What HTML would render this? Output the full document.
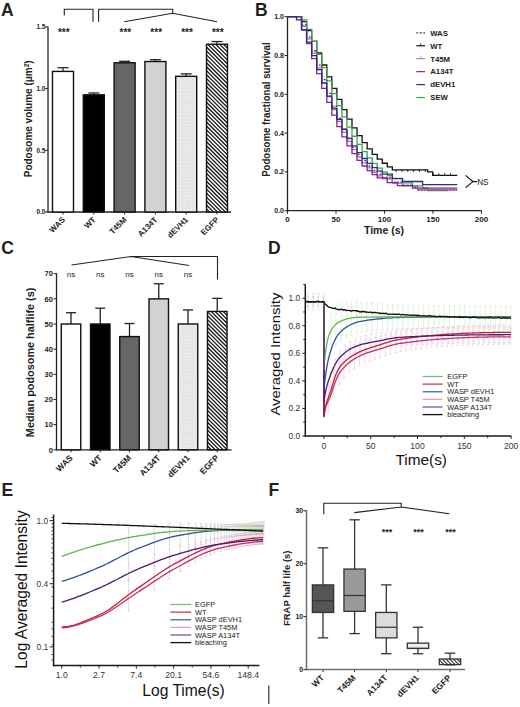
<!DOCTYPE html>
<html><head><meta charset="utf-8"><style>
html,body{margin:0;padding:0;background:#fff;}
body{width:520px;height:707px;overflow:hidden;}
svg{display:block;font-family:"Liberation Sans", sans-serif;}
</style></head><body>
<svg width="520" height="707" viewBox="0 0 520 707">
<defs>
<pattern id="dots" width="2" height="2" patternUnits="userSpaceOnUse" patternTransform="rotate(45)"><rect width="2" height="2" fill="#efefef"/><rect width="1" height="1" fill="#cfcfcf"/></pattern>
<pattern id="hatch" width="2.4" height="4" patternUnits="userSpaceOnUse" patternTransform="rotate(-45)"><rect width="2.4" height="4" fill="#fff"/><rect width="1.1" height="4" fill="#1a1a1a"/></pattern>
</defs>
<text x="1.00" y="15.80" font-size="17.5" font-weight="bold" text-anchor="start" fill="#222" >A</text>
<text x="255.00" y="15.80" font-size="17.5" font-weight="bold" text-anchor="start" fill="#222" >B</text>
<text x="1.30" y="254.10" font-size="17.5" font-weight="bold" text-anchor="start" fill="#222" >C</text>
<text x="268.00" y="254.10" font-size="17.5" font-weight="bold" text-anchor="start" fill="#222" >D</text>
<text x="1.40" y="495.80" font-size="17.5" font-weight="bold" text-anchor="start" fill="#222" >E</text>
<text x="268.50" y="495.80" font-size="17.5" font-weight="bold" text-anchor="start" fill="#222" >F</text>
<line x1="48.00" y1="26.50" x2="48.00" y2="212.60" stroke="#222" stroke-width="1.3" />
<line x1="47.40" y1="212.00" x2="231.00" y2="212.00" stroke="#222" stroke-width="1.3" />
<line x1="45.00" y1="212.00" x2="48.00" y2="212.00" stroke="#222" stroke-width="1" />
<text x="45.40" y="214.30" font-size="6.4" font-weight="bold" text-anchor="end" fill="#222" >0.0</text>
<line x1="45.00" y1="150.33" x2="48.00" y2="150.33" stroke="#222" stroke-width="1" />
<text x="45.40" y="152.63" font-size="6.4" font-weight="bold" text-anchor="end" fill="#222" >0.5</text>
<line x1="45.00" y1="88.67" x2="48.00" y2="88.67" stroke="#222" stroke-width="1" />
<text x="45.40" y="90.97" font-size="6.4" font-weight="bold" text-anchor="end" fill="#222" >1.0</text>
<line x1="45.00" y1="27.00" x2="48.00" y2="27.00" stroke="#222" stroke-width="1" />
<text x="45.40" y="29.30" font-size="6.4" font-weight="bold" text-anchor="end" fill="#222" >1.5</text>
<text x="32.30" y="118.80" font-size="10" font-weight="bold" text-anchor="middle" fill="#222" transform="rotate(-90 32.30 118.80)" >Podosome volume (μm<tspan font-size="6.5" dy="-3.6">2</tspan><tspan dy="3.6">)</tspan></text>
<line x1="63.00" y1="71.40" x2="63.00" y2="67.70" stroke="#222" stroke-width="1.2" />
<line x1="57.50" y1="67.70" x2="68.50" y2="67.70" stroke="#222" stroke-width="1.3" />
<rect x="52.50" y="71.40" width="21.00" height="140.60" fill="#fff" stroke="#111" stroke-width="1.4"/>
<line x1="63.00" y1="212.00" x2="63.00" y2="214.50" stroke="#222" stroke-width="1" />
<text x="65.50" y="220.30" font-size="8" font-weight="bold" text-anchor="end" fill="#222" transform="rotate(-45 65.50 220.30)" >WAS</text>
<text x="63.80" y="35.80" font-size="10" font-weight="bold" text-anchor="middle" fill="#222" >***</text>
<line x1="93.80" y1="94.83" x2="93.80" y2="92.98" stroke="#222" stroke-width="1.2" />
<line x1="88.30" y1="92.98" x2="99.30" y2="92.98" stroke="#222" stroke-width="1.3" />
<rect x="83.30" y="94.83" width="21.00" height="117.17" fill="#000" stroke="#111" stroke-width="1.4"/>
<line x1="93.80" y1="212.00" x2="93.80" y2="214.50" stroke="#222" stroke-width="1" />
<text x="96.30" y="220.30" font-size="8" font-weight="bold" text-anchor="end" fill="#222" transform="rotate(-45 96.30 220.30)" >WT</text>
<line x1="124.60" y1="62.77" x2="124.60" y2="61.29" stroke="#222" stroke-width="1.2" />
<line x1="119.10" y1="61.29" x2="130.10" y2="61.29" stroke="#222" stroke-width="1.3" />
<rect x="114.10" y="62.77" width="21.00" height="149.23" fill="#666" stroke="#111" stroke-width="1.4"/>
<line x1="124.60" y1="212.00" x2="124.60" y2="214.50" stroke="#222" stroke-width="1" />
<text x="127.10" y="220.30" font-size="8" font-weight="bold" text-anchor="end" fill="#222" transform="rotate(-45 127.10 220.30)" >T45M</text>
<text x="125.40" y="35.80" font-size="10" font-weight="bold" text-anchor="middle" fill="#222" >***</text>
<line x1="155.40" y1="61.53" x2="155.40" y2="59.68" stroke="#222" stroke-width="1.2" />
<line x1="149.90" y1="59.68" x2="160.90" y2="59.68" stroke="#222" stroke-width="1.3" />
<rect x="144.90" y="61.53" width="21.00" height="150.47" fill="#d2d2d2" stroke="#111" stroke-width="1.4"/>
<line x1="155.40" y1="212.00" x2="155.40" y2="214.50" stroke="#222" stroke-width="1" />
<text x="157.90" y="220.30" font-size="8" font-weight="bold" text-anchor="end" fill="#222" transform="rotate(-45 157.90 220.30)" >A134T</text>
<text x="156.20" y="35.80" font-size="10" font-weight="bold" text-anchor="middle" fill="#222" >***</text>
<line x1="186.20" y1="76.33" x2="186.20" y2="73.87" stroke="#222" stroke-width="1.2" />
<line x1="180.70" y1="73.87" x2="191.70" y2="73.87" stroke="#222" stroke-width="1.3" />
<rect x="175.70" y="76.33" width="21.00" height="135.67" fill="url(#dots)" stroke="#111" stroke-width="1.4"/>
<line x1="186.20" y1="212.00" x2="186.20" y2="214.50" stroke="#222" stroke-width="1" />
<text x="188.70" y="220.30" font-size="8" font-weight="bold" text-anchor="end" fill="#222" transform="rotate(-45 188.70 220.30)" >dEVH1</text>
<text x="187.00" y="35.80" font-size="10" font-weight="bold" text-anchor="middle" fill="#222" >***</text>
<line x1="217.00" y1="44.27" x2="217.00" y2="41.55" stroke="#222" stroke-width="1.2" />
<line x1="211.50" y1="41.55" x2="222.50" y2="41.55" stroke="#222" stroke-width="1.3" />
<clipPath id="hc1"><rect x="206.50" y="44.27" width="21.00" height="167.73"/></clipPath>
<rect x="206.50" y="44.27" width="21.00" height="167.73" fill="#fff"/>
<path d="M205.50 22.27 L228.50 45.27 M205.50 26.22 L228.50 49.22 M205.50 30.17 L228.50 53.17 M205.50 34.12 L228.50 57.12 M205.50 38.07 L228.50 61.07 M205.50 42.02 L228.50 65.02 M205.50 45.97 L228.50 68.97 M205.50 49.92 L228.50 72.92 M205.50 53.87 L228.50 76.87 M205.50 57.82 L228.50 80.82 M205.50 61.77 L228.50 84.77 M205.50 65.72 L228.50 88.72 M205.50 69.67 L228.50 92.67 M205.50 73.62 L228.50 96.62 M205.50 77.57 L228.50 100.57 M205.50 81.52 L228.50 104.52 M205.50 85.47 L228.50 108.47 M205.50 89.42 L228.50 112.42 M205.50 93.37 L228.50 116.37 M205.50 97.32 L228.50 120.32 M205.50 101.27 L228.50 124.27 M205.50 105.22 L228.50 128.22 M205.50 109.17 L228.50 132.17 M205.50 113.12 L228.50 136.12 M205.50 117.07 L228.50 140.07 M205.50 121.02 L228.50 144.02 M205.50 124.97 L228.50 147.97 M205.50 128.92 L228.50 151.92 M205.50 132.87 L228.50 155.87 M205.50 136.82 L228.50 159.82 M205.50 140.77 L228.50 163.77 M205.50 144.72 L228.50 167.72 M205.50 148.67 L228.50 171.67 M205.50 152.62 L228.50 175.62 M205.50 156.57 L228.50 179.57 M205.50 160.52 L228.50 183.52 M205.50 164.47 L228.50 187.47 M205.50 168.42 L228.50 191.42 M205.50 172.37 L228.50 195.37 M205.50 176.32 L228.50 199.32 M205.50 180.27 L228.50 203.27 M205.50 184.22 L228.50 207.22 M205.50 188.17 L228.50 211.17 M205.50 192.12 L228.50 215.12 M205.50 196.07 L228.50 219.07 M205.50 200.02 L228.50 223.02 M205.50 203.97 L228.50 226.97 M205.50 207.92 L228.50 230.92 " stroke="#1a1a1a" stroke-width="1.3" clip-path="url(#hc1)"/>
<rect x="206.50" y="44.27" width="21.00" height="167.73" fill="none" stroke="#111" stroke-width="1.4"/>
<line x1="217.00" y1="212.00" x2="217.00" y2="214.50" stroke="#222" stroke-width="1" />
<text x="219.50" y="220.30" font-size="8" font-weight="bold" text-anchor="end" fill="#222" transform="rotate(-45 219.50 220.30)" >EGFP</text>
<text x="217.80" y="35.80" font-size="10" font-weight="bold" text-anchor="middle" fill="#222" >***</text>
<path d="M64.3 15.6 V9.3 H93 V21.8" stroke="#222" stroke-width="1.1" fill="none" />
<path d="M98.6 21.8 V9.3 H172.7 V13.2 M124.2 21.8 L172.7 13.2 L217 21.8" stroke="#222" stroke-width="1.1" fill="none" />
<line x1="287.50" y1="16.20" x2="287.50" y2="211.30" stroke="#222" stroke-width="1.3" />
<line x1="286.90" y1="210.70" x2="481.50" y2="210.70" stroke="#222" stroke-width="1.3" />
<line x1="284.50" y1="210.70" x2="287.50" y2="210.70" stroke="#222" stroke-width="1" />
<text x="284.00" y="213.20" font-size="7" font-weight="bold" text-anchor="end" fill="#222" >0.0</text>
<line x1="284.50" y1="171.90" x2="287.50" y2="171.90" stroke="#222" stroke-width="1" />
<text x="284.00" y="174.40" font-size="7" font-weight="bold" text-anchor="end" fill="#222" >0.2</text>
<line x1="284.50" y1="133.10" x2="287.50" y2="133.10" stroke="#222" stroke-width="1" />
<text x="284.00" y="135.60" font-size="7" font-weight="bold" text-anchor="end" fill="#222" >0.4</text>
<line x1="284.50" y1="94.30" x2="287.50" y2="94.30" stroke="#222" stroke-width="1" />
<text x="284.00" y="96.80" font-size="7" font-weight="bold" text-anchor="end" fill="#222" >0.6</text>
<line x1="284.50" y1="55.50" x2="287.50" y2="55.50" stroke="#222" stroke-width="1" />
<text x="284.00" y="58.00" font-size="7" font-weight="bold" text-anchor="end" fill="#222" >0.8</text>
<line x1="284.50" y1="16.70" x2="287.50" y2="16.70" stroke="#222" stroke-width="1" />
<text x="284.00" y="19.20" font-size="7" font-weight="bold" text-anchor="end" fill="#222" >1.0</text>
<line x1="287.50" y1="210.70" x2="287.50" y2="213.70" stroke="#222" stroke-width="1" />
<text x="287.50" y="222.20" font-size="8" font-weight="bold" text-anchor="middle" fill="#222" >0</text>
<line x1="336.00" y1="210.70" x2="336.00" y2="213.70" stroke="#222" stroke-width="1" />
<text x="336.00" y="222.20" font-size="8" font-weight="bold" text-anchor="middle" fill="#222" >50</text>
<line x1="384.50" y1="210.70" x2="384.50" y2="213.70" stroke="#222" stroke-width="1" />
<text x="384.50" y="222.20" font-size="8" font-weight="bold" text-anchor="middle" fill="#222" >100</text>
<line x1="433.00" y1="210.70" x2="433.00" y2="213.70" stroke="#222" stroke-width="1" />
<text x="433.00" y="222.20" font-size="8" font-weight="bold" text-anchor="middle" fill="#222" >150</text>
<line x1="481.50" y1="210.70" x2="481.50" y2="213.70" stroke="#222" stroke-width="1" />
<text x="481.50" y="222.20" font-size="8" font-weight="bold" text-anchor="middle" fill="#222" >200</text>
<text x="384.00" y="234.30" font-size="10.5" font-weight="bold" text-anchor="middle" fill="#222" >Time (s)</text>
<text x="269.60" y="109.60" font-size="11" font-weight="bold" text-anchor="middle" fill="#222" transform="rotate(-90 269.60 109.60)" textLength="134.5" lengthAdjust="spacingAndGlyphs">Podosome fractional survival</text>
<path d="M287.50 16.70 H301.56 V21.53 H306.61 V30.52 H311.65 V41.31 H316.70 V52.98 H321.74 V64.98 H326.78 V76.88 H331.83 V88.42 H336.87 V99.38 H341.92 V109.65 H346.96 V119.12 H352.00 V127.78 H357.05 V135.60 H362.09 V142.60 H367.14 V148.82 H372.18 V154.29 H377.23 V159.08 H382.27 V163.24 H387.31 V166.83 H392.36 V169.92 H427.66 V171.90 H432.71 V175.39 H457.25" stroke="#111" stroke-width="1.3" fill="none"  stroke-linejoin="miter"/>
<path d="M287.50 16.70 H301.56 V19.91 H306.61 V29.36 H311.65 V41.23 H316.70 V54.25 H321.74 V67.64 H326.78 V80.91 H331.83 V93.68 H336.87 V105.72 H341.92 V116.88 H346.96 V127.07 H352.00 V136.25 H357.05 V144.43 H362.09 V151.65 H367.14 V157.97 H372.18 V163.44 H377.23 V168.14 H382.27 V172.15 H387.31 V175.55 H392.36 V178.41 H402.45 V182.80 H412.53 V185.79 H422.62 V187.79 H427.66 V190.72 H447.55" stroke="#3aa648" stroke-width="1.3" fill="none"  stroke-linejoin="miter"/>
<path d="M287.50 16.70 H301.56 V24.91 H306.61 V36.94 H311.65 V50.74 H316.70 V65.19 H321.74 V79.56 H326.78 V93.39 H331.83 V106.36 H336.87 V118.27 H341.92 V129.04 H346.96 V138.62 H352.00 V147.04 H357.05 V154.36 H362.09 V160.65 H367.14 V166.00 H372.18 V170.52 H377.23 V174.29 H382.27 V177.43 H392.36 V182.12 H402.45 V185.22 H412.53 V187.22 H417.58 V190.33 H457.25" stroke="#333" stroke-width="1.3" fill="none" stroke-dasharray="1.6 1.6" stroke-linejoin="miter"/>
<path d="M287.50 16.70 H301.56 V26.23 H306.61 V38.86 H311.65 V53.13 H316.70 V67.93 H321.74 V82.54 H326.78 V96.51 H331.83 V109.51 H336.87 V121.38 H341.92 V132.04 H346.96 V141.46 H352.00 V149.68 H357.05 V156.78 H362.09 V162.84 H367.14 V167.95 H372.18 V172.24 H377.23 V175.80 H382.27 V178.73 H392.36 V183.06 H402.45 V185.88 H417.58 V189.75 H457.25" stroke="#b464a8" stroke-width="1.3" fill="none"  stroke-linejoin="miter"/>
<path d="M287.50 16.70 H301.56 V30.03 H306.61 V43.67 H311.65 V58.55 H316.70 V73.69 H321.74 V88.41 H326.78 V102.30 H331.83 V115.10 H336.87 V126.67 H341.92 V136.94 H346.96 V145.94 H352.00 V153.72 H357.05 V160.37 H362.09 V165.99 H367.14 V170.69 H372.18 V174.59 H377.23 V177.80 H387.31 V182.54 H397.40 V185.60 H412.53 V188.18 H457.25" stroke="#7b2a8a" stroke-width="1.3" fill="none"  stroke-linejoin="miter"/>
<path d="M287.50 16.70 H296.52 V19.81 H301.56 V29.68 H306.61 V42.10 H311.65 V55.66 H316.70 V69.53 H321.74 V83.13 H326.78 V96.10 H331.83 V108.19 H336.87 V119.26 H341.92 V129.24 H346.96 V138.11 H352.00 V145.90 H357.05 V152.67 H362.09 V158.50 H367.14 V163.47 H372.18 V167.67 H377.23 V171.20 H382.27 V174.13 H392.36 V178.55 H402.45 V181.48 H422.62 V184.60 H457.25" stroke="#2c2c8c" stroke-width="1.3" fill="none"  stroke-linejoin="miter"/>
<line x1="396.14" y1="171.90" x2="396.14" y2="169.70" stroke="#111" stroke-width="0.9" />
<line x1="401.96" y1="171.90" x2="401.96" y2="169.70" stroke="#111" stroke-width="0.9" />
<line x1="407.78" y1="171.90" x2="407.78" y2="169.70" stroke="#111" stroke-width="0.9" />
<line x1="413.60" y1="171.90" x2="413.60" y2="169.70" stroke="#111" stroke-width="0.9" />
<line x1="419.42" y1="171.90" x2="419.42" y2="169.70" stroke="#111" stroke-width="0.9" />
<line x1="425.24" y1="171.90" x2="425.24" y2="169.70" stroke="#111" stroke-width="0.9" />
<line x1="433.00" y1="175.39" x2="433.00" y2="173.19" stroke="#111" stroke-width="0.9" />
<line x1="438.82" y1="175.39" x2="438.82" y2="173.19" stroke="#111" stroke-width="0.9" />
<line x1="444.64" y1="175.39" x2="444.64" y2="173.19" stroke="#111" stroke-width="0.9" />
<line x1="450.46" y1="175.39" x2="450.46" y2="173.19" stroke="#111" stroke-width="0.9" />
<line x1="416.30" y1="32.80" x2="425.00" y2="32.80" stroke="#444" stroke-width="1.2" stroke-dasharray="2 1.5"/>
<text x="430.20" y="35.60" font-size="7.8" font-weight="bold" text-anchor="start" fill="#222" >WAS</text>
<line x1="416.30" y1="45.75" x2="425.00" y2="45.75" stroke="#111" stroke-width="1.2" />
<line x1="420.70" y1="45.75" x2="420.70" y2="43.55" stroke="#111" stroke-width="0.9" />
<text x="430.20" y="48.55" font-size="7.8" font-weight="bold" text-anchor="start" fill="#222" >WT</text>
<line x1="416.30" y1="58.70" x2="425.00" y2="58.70" stroke="#c07ab4" stroke-width="1.2" />
<line x1="420.70" y1="58.70" x2="420.70" y2="56.50" stroke="#c07ab4" stroke-width="0.9" />
<text x="430.20" y="61.50" font-size="7.8" font-weight="bold" text-anchor="start" fill="#222" >T45M</text>
<line x1="416.30" y1="71.65" x2="425.00" y2="71.65" stroke="#7b2a8a" stroke-width="1.2" />
<text x="430.20" y="74.45" font-size="7.8" font-weight="bold" text-anchor="start" fill="#222" >A134T</text>
<line x1="416.30" y1="84.60" x2="425.00" y2="84.60" stroke="#2c2c8c" stroke-width="1.2" />
<text x="430.20" y="87.40" font-size="7.8" font-weight="bold" text-anchor="start" fill="#222" >dEVH1</text>
<line x1="416.30" y1="97.55" x2="425.00" y2="97.55" stroke="#3aa648" stroke-width="1.2" />
<text x="430.20" y="100.35" font-size="7.8" font-weight="bold" text-anchor="start" fill="#222" >SEW</text>
<path d="M465.6 175.4 L472.9 181.6 L465.6 187.6 M472.9 181.6 H477" stroke="#111" stroke-width="1.2" fill="none" />
<text x="477.20" y="185.40" font-size="8.2" font-weight="normal" text-anchor="start" fill="#111" >NS</text>
<line x1="56.50" y1="273.20" x2="56.50" y2="450.40" stroke="#222" stroke-width="1.3" />
<line x1="55.90" y1="449.80" x2="231.70" y2="449.80" stroke="#222" stroke-width="1.3" />
<line x1="53.50" y1="449.80" x2="56.50" y2="449.80" stroke="#222" stroke-width="1" />
<text x="52.90" y="452.50" font-size="7.5" font-weight="bold" text-anchor="end" fill="#222" >0</text>
<line x1="53.50" y1="424.64" x2="56.50" y2="424.64" stroke="#222" stroke-width="1" />
<text x="52.90" y="427.34" font-size="7.5" font-weight="bold" text-anchor="end" fill="#222" >10</text>
<line x1="53.50" y1="399.49" x2="56.50" y2="399.49" stroke="#222" stroke-width="1" />
<text x="52.90" y="402.19" font-size="7.5" font-weight="bold" text-anchor="end" fill="#222" >20</text>
<line x1="53.50" y1="374.33" x2="56.50" y2="374.33" stroke="#222" stroke-width="1" />
<text x="52.90" y="377.03" font-size="7.5" font-weight="bold" text-anchor="end" fill="#222" >30</text>
<line x1="53.50" y1="349.17" x2="56.50" y2="349.17" stroke="#222" stroke-width="1" />
<text x="52.90" y="351.87" font-size="7.5" font-weight="bold" text-anchor="end" fill="#222" >40</text>
<line x1="53.50" y1="324.01" x2="56.50" y2="324.01" stroke="#222" stroke-width="1" />
<text x="52.90" y="326.71" font-size="7.5" font-weight="bold" text-anchor="end" fill="#222" >50</text>
<line x1="53.50" y1="298.86" x2="56.50" y2="298.86" stroke="#222" stroke-width="1" />
<text x="52.90" y="301.56" font-size="7.5" font-weight="bold" text-anchor="end" fill="#222" >60</text>
<line x1="53.50" y1="273.70" x2="56.50" y2="273.70" stroke="#222" stroke-width="1" />
<text x="52.90" y="276.40" font-size="7.5" font-weight="bold" text-anchor="end" fill="#222" >70</text>
<text x="34.20" y="362.40" font-size="11.8" font-weight="bold" text-anchor="middle" fill="#222" transform="rotate(-90 34.20 362.40)" textLength="149.5" lengthAdjust="spacingAndGlyphs">Median podosome halflife (s)</text>
<line x1="71.00" y1="324.01" x2="71.00" y2="312.69" stroke="#222" stroke-width="1.3" />
<line x1="66.00" y1="312.69" x2="76.00" y2="312.69" stroke="#222" stroke-width="1.3" />
<rect x="61.25" y="324.01" width="19.50" height="125.79" fill="#fff" stroke="#111" stroke-width="1.4"/>
<line x1="71.00" y1="449.80" x2="71.00" y2="452.30" stroke="#222" stroke-width="1" />
<text x="73.30" y="458.50" font-size="8.5" font-weight="bold" text-anchor="end" fill="#222" transform="rotate(-45 73.30 458.50)" >WAS</text>
<text x="71.00" y="277.00" font-size="8" font-weight="normal" text-anchor="middle" fill="#222" >ns</text>
<line x1="100.25" y1="324.01" x2="100.25" y2="308.17" stroke="#222" stroke-width="1.3" />
<line x1="95.25" y1="308.17" x2="105.25" y2="308.17" stroke="#222" stroke-width="1.3" />
<rect x="90.50" y="324.01" width="19.50" height="125.79" fill="#000" stroke="#111" stroke-width="1.4"/>
<line x1="100.25" y1="449.80" x2="100.25" y2="452.30" stroke="#222" stroke-width="1" />
<text x="102.55" y="458.50" font-size="8.5" font-weight="bold" text-anchor="end" fill="#222" transform="rotate(-45 102.55 458.50)" >WT</text>
<text x="100.25" y="277.00" font-size="8" font-weight="normal" text-anchor="middle" fill="#222" >ns</text>
<line x1="129.50" y1="336.59" x2="129.50" y2="323.51" stroke="#222" stroke-width="1.3" />
<line x1="124.50" y1="323.51" x2="134.50" y2="323.51" stroke="#222" stroke-width="1.3" />
<rect x="119.75" y="336.59" width="19.50" height="113.21" fill="#666" stroke="#111" stroke-width="1.4"/>
<line x1="129.50" y1="449.80" x2="129.50" y2="452.30" stroke="#222" stroke-width="1" />
<text x="131.80" y="458.50" font-size="8.5" font-weight="bold" text-anchor="end" fill="#222" transform="rotate(-45 131.80 458.50)" >T45M</text>
<text x="129.50" y="277.00" font-size="8" font-weight="normal" text-anchor="middle" fill="#222" >ns</text>
<line x1="158.75" y1="298.86" x2="158.75" y2="283.76" stroke="#222" stroke-width="1.3" />
<line x1="153.75" y1="283.76" x2="163.75" y2="283.76" stroke="#222" stroke-width="1.3" />
<rect x="149.00" y="298.86" width="19.50" height="150.94" fill="#d2d2d2" stroke="#111" stroke-width="1.4"/>
<line x1="158.75" y1="449.80" x2="158.75" y2="452.30" stroke="#222" stroke-width="1" />
<text x="161.05" y="458.50" font-size="8.5" font-weight="bold" text-anchor="end" fill="#222" transform="rotate(-45 161.05 458.50)" >A134T</text>
<text x="158.75" y="277.00" font-size="8" font-weight="normal" text-anchor="middle" fill="#222" >ns</text>
<line x1="188.00" y1="324.01" x2="188.00" y2="309.93" stroke="#222" stroke-width="1.3" />
<line x1="183.00" y1="309.93" x2="193.00" y2="309.93" stroke="#222" stroke-width="1.3" />
<rect x="178.25" y="324.01" width="19.50" height="125.79" fill="url(#dots)" stroke="#111" stroke-width="1.4"/>
<line x1="188.00" y1="449.80" x2="188.00" y2="452.30" stroke="#222" stroke-width="1" />
<text x="190.30" y="458.50" font-size="8.5" font-weight="bold" text-anchor="end" fill="#222" transform="rotate(-45 190.30 458.50)" >dEVH1</text>
<text x="188.00" y="277.00" font-size="8" font-weight="normal" text-anchor="middle" fill="#222" >ns</text>
<line x1="217.25" y1="311.44" x2="217.25" y2="298.35" stroke="#222" stroke-width="1.3" />
<line x1="212.25" y1="298.35" x2="222.25" y2="298.35" stroke="#222" stroke-width="1.3" />
<clipPath id="hc2"><rect x="207.50" y="311.44" width="19.50" height="138.36"/></clipPath>
<rect x="207.50" y="311.44" width="19.50" height="138.36" fill="#fff"/>
<path d="M206.50 290.94 L228.00 312.44 M206.50 294.89 L228.00 316.39 M206.50 298.84 L228.00 320.34 M206.50 302.79 L228.00 324.29 M206.50 306.74 L228.00 328.24 M206.50 310.69 L228.00 332.19 M206.50 314.64 L228.00 336.14 M206.50 318.59 L228.00 340.09 M206.50 322.54 L228.00 344.04 M206.50 326.49 L228.00 347.99 M206.50 330.44 L228.00 351.94 M206.50 334.39 L228.00 355.89 M206.50 338.34 L228.00 359.84 M206.50 342.29 L228.00 363.79 M206.50 346.24 L228.00 367.74 M206.50 350.19 L228.00 371.69 M206.50 354.14 L228.00 375.64 M206.50 358.09 L228.00 379.59 M206.50 362.04 L228.00 383.54 M206.50 365.99 L228.00 387.49 M206.50 369.94 L228.00 391.44 M206.50 373.89 L228.00 395.39 M206.50 377.84 L228.00 399.34 M206.50 381.79 L228.00 403.29 M206.50 385.74 L228.00 407.24 M206.50 389.69 L228.00 411.19 M206.50 393.64 L228.00 415.14 M206.50 397.59 L228.00 419.09 M206.50 401.54 L228.00 423.04 M206.50 405.49 L228.00 426.99 M206.50 409.44 L228.00 430.94 M206.50 413.39 L228.00 434.89 M206.50 417.34 L228.00 438.84 M206.50 421.29 L228.00 442.79 M206.50 425.24 L228.00 446.74 M206.50 429.19 L228.00 450.69 M206.50 433.14 L228.00 454.64 M206.50 437.09 L228.00 458.59 M206.50 441.04 L228.00 462.54 M206.50 444.99 L228.00 466.49 " stroke="#1a1a1a" stroke-width="1.3" clip-path="url(#hc2)"/>
<rect x="207.50" y="311.44" width="19.50" height="138.36" fill="none" stroke="#111" stroke-width="1.4"/>
<line x1="217.25" y1="449.80" x2="217.25" y2="452.30" stroke="#222" stroke-width="1" />
<text x="219.55" y="458.50" font-size="8.5" font-weight="bold" text-anchor="end" fill="#222" transform="rotate(-45 219.55 458.50)" >EGFP</text>
<path d="M71.5 265 L131 256.5 L189 265.5 M131 256.5 H217.5 V279.5" stroke="#222" stroke-width="1.1" fill="none" />
<path d="M307.99 296.82 V306.47 M306.79 296.82 h2.4 M306.79 306.47 h2.4" stroke="#e090c0" stroke-width="0.7" fill="none" stroke-opacity="0.55"/>
<path d="M307.99 293.38 V309.91 M306.79 293.38 h2.4 M306.79 309.91 h2.4" stroke="#a8d8a0" stroke-width="0.7" fill="none" stroke-opacity="0.55"/>
<path d="M313.14 296.82 V306.47 M311.94 296.82 h2.4 M311.94 306.47 h2.4" stroke="#e090c0" stroke-width="0.7" fill="none" stroke-opacity="0.55"/>
<path d="M313.14 293.38 V309.91 M311.94 293.38 h2.4 M311.94 309.91 h2.4" stroke="#a8d8a0" stroke-width="0.7" fill="none" stroke-opacity="0.55"/>
<path d="M318.28 296.82 V306.47 M317.08 296.82 h2.4 M317.08 306.47 h2.4" stroke="#e090c0" stroke-width="0.7" fill="none" stroke-opacity="0.55"/>
<path d="M318.28 293.38 V309.91 M317.08 293.38 h2.4 M317.08 309.91 h2.4" stroke="#a8d8a0" stroke-width="0.7" fill="none" stroke-opacity="0.55"/>
<path d="M323.43 296.82 V306.47 M322.23 296.82 h2.4 M322.23 306.47 h2.4" stroke="#e090c0" stroke-width="0.7" fill="none" stroke-opacity="0.55"/>
<path d="M323.43 293.38 V309.91 M322.23 293.38 h2.4 M322.23 309.91 h2.4" stroke="#a8d8a0" stroke-width="0.7" fill="none" stroke-opacity="0.55"/>
<path d="M328.58 384.07 V413.09 M327.38 384.07 h2.4 M327.38 413.09 h2.4" stroke="#e8a0c8" stroke-width="0.7" fill="none" stroke-opacity="0.55"/>
<path d="M329.98 372.09 V388.63 M328.78 372.09 h2.4 M328.78 388.63 h2.4" stroke="#d8a8d0" stroke-width="0.7" fill="none" stroke-opacity="0.55"/>
<path d="M330.92 313.60 V358.98 M329.72 313.60 h2.4 M329.72 358.98 h2.4" stroke="#b0dca8" stroke-width="0.7" fill="none" stroke-opacity="0.55"/>
<path d="M333.73 369.58 V397.35 M332.53 369.58 h2.4 M332.53 397.35 h2.4" stroke="#e8a0c8" stroke-width="0.7" fill="none" stroke-opacity="0.55"/>
<path d="M335.13 358.97 V375.50 M333.93 358.97 h2.4 M333.93 375.50 h2.4" stroke="#d8a8d0" stroke-width="0.7" fill="none" stroke-opacity="0.55"/>
<path d="M336.07 305.62 V347.08 M334.87 305.62 h2.4 M334.87 347.08 h2.4" stroke="#b0dca8" stroke-width="0.7" fill="none" stroke-opacity="0.55"/>
<path d="M338.88 357.95 V384.63 M337.68 357.95 h2.4 M337.68 384.63 h2.4" stroke="#e8a0c8" stroke-width="0.7" fill="none" stroke-opacity="0.55"/>
<path d="M340.28 350.27 V366.81 M339.08 350.27 h2.4 M339.08 366.81 h2.4" stroke="#d8a8d0" stroke-width="0.7" fill="none" stroke-opacity="0.55"/>
<path d="M341.22 302.98 V341.20 M340.02 302.98 h2.4 M340.02 341.20 h2.4" stroke="#b0dca8" stroke-width="0.7" fill="none" stroke-opacity="0.55"/>
<path d="M344.02 351.92 V377.65 M342.82 351.92 h2.4 M342.82 377.65 h2.4" stroke="#e8a0c8" stroke-width="0.7" fill="none" stroke-opacity="0.55"/>
<path d="M345.43 345.14 V361.68 M344.23 345.14 h2.4 M344.23 361.68 h2.4" stroke="#d8a8d0" stroke-width="0.7" fill="none" stroke-opacity="0.55"/>
<path d="M346.36 302.14 V337.65 M345.16 302.14 h2.4 M345.16 337.65 h2.4" stroke="#b0dca8" stroke-width="0.7" fill="none" stroke-opacity="0.55"/>
<path d="M349.17 347.78 V372.69 M347.97 347.78 h2.4 M347.97 372.69 h2.4" stroke="#e8a0c8" stroke-width="0.7" fill="none" stroke-opacity="0.55"/>
<path d="M350.58 341.44 V357.98 M349.38 341.44 h2.4 M349.38 357.98 h2.4" stroke="#d8a8d0" stroke-width="0.7" fill="none" stroke-opacity="0.55"/>
<path d="M351.51 301.77 V335.03 M350.31 301.77 h2.4 M350.31 335.03 h2.4" stroke="#b0dca8" stroke-width="0.7" fill="none" stroke-opacity="0.55"/>
<path d="M354.32 344.68 V368.87 M353.12 344.68 h2.4 M353.12 368.87 h2.4" stroke="#e8a0c8" stroke-width="0.7" fill="none" stroke-opacity="0.55"/>
<path d="M355.72 338.74 V355.28 M354.52 338.74 h2.4 M354.52 355.28 h2.4" stroke="#d8a8d0" stroke-width="0.7" fill="none" stroke-opacity="0.55"/>
<path d="M356.66 301.86 V333.23 M355.46 301.86 h2.4 M355.46 333.23 h2.4" stroke="#b0dca8" stroke-width="0.7" fill="none" stroke-opacity="0.55"/>
<path d="M359.47 342.23 V365.79 M358.27 342.23 h2.4 M358.27 365.79 h2.4" stroke="#e8a0c8" stroke-width="0.7" fill="none" stroke-opacity="0.55"/>
<path d="M360.87 336.78 V353.32 M359.67 336.78 h2.4 M359.67 353.32 h2.4" stroke="#d8a8d0" stroke-width="0.7" fill="none" stroke-opacity="0.55"/>
<path d="M361.81 302.31 V332.12 M360.61 302.31 h2.4 M360.61 332.12 h2.4" stroke="#b0dca8" stroke-width="0.7" fill="none" stroke-opacity="0.55"/>
<path d="M364.62 340.32 V363.32 M363.42 340.32 h2.4 M363.42 363.32 h2.4" stroke="#e8a0c8" stroke-width="0.7" fill="none" stroke-opacity="0.55"/>
<path d="M366.02 335.41 V351.94 M364.82 335.41 h2.4 M364.82 351.94 h2.4" stroke="#d8a8d0" stroke-width="0.7" fill="none" stroke-opacity="0.55"/>
<path d="M366.96 302.87 V331.39 M365.76 302.87 h2.4 M365.76 331.39 h2.4" stroke="#b0dca8" stroke-width="0.7" fill="none" stroke-opacity="0.55"/>
<path d="M369.76 338.76 V361.29 M368.56 338.76 h2.4 M368.56 361.29 h2.4" stroke="#e8a0c8" stroke-width="0.7" fill="none" stroke-opacity="0.55"/>
<path d="M371.17 334.36 V350.90 M369.97 334.36 h2.4 M369.97 350.90 h2.4" stroke="#d8a8d0" stroke-width="0.7" fill="none" stroke-opacity="0.55"/>
<path d="M372.10 303.35 V330.78 M370.90 303.35 h2.4 M370.90 330.78 h2.4" stroke="#b0dca8" stroke-width="0.7" fill="none" stroke-opacity="0.55"/>
<path d="M374.91 337.35 V359.46 M373.71 337.35 h2.4 M373.71 359.46 h2.4" stroke="#e8a0c8" stroke-width="0.7" fill="none" stroke-opacity="0.55"/>
<path d="M376.32 333.42 V349.96 M375.12 333.42 h2.4 M375.12 349.96 h2.4" stroke="#d8a8d0" stroke-width="0.7" fill="none" stroke-opacity="0.55"/>
<path d="M377.25 303.76 V330.28 M376.05 303.76 h2.4 M376.05 330.28 h2.4" stroke="#b0dca8" stroke-width="0.7" fill="none" stroke-opacity="0.55"/>
<path d="M380.06 335.95 V357.70 M378.86 335.95 h2.4 M378.86 357.70 h2.4" stroke="#e8a0c8" stroke-width="0.7" fill="none" stroke-opacity="0.55"/>
<path d="M381.46 332.47 V349.01 M380.26 332.47 h2.4 M380.26 349.01 h2.4" stroke="#d8a8d0" stroke-width="0.7" fill="none" stroke-opacity="0.55"/>
<path d="M382.40 304.10 V329.87 M381.20 304.10 h2.4 M381.20 329.87 h2.4" stroke="#b0dca8" stroke-width="0.7" fill="none" stroke-opacity="0.55"/>
<path d="M385.21 334.41 V355.85 M384.01 334.41 h2.4 M384.01 355.85 h2.4" stroke="#e8a0c8" stroke-width="0.7" fill="none" stroke-opacity="0.55"/>
<path d="M386.61 331.37 V347.91 M385.41 331.37 h2.4 M385.41 347.91 h2.4" stroke="#d8a8d0" stroke-width="0.7" fill="none" stroke-opacity="0.55"/>
<path d="M387.55 304.39 V329.54 M386.35 304.39 h2.4 M386.35 329.54 h2.4" stroke="#b0dca8" stroke-width="0.7" fill="none" stroke-opacity="0.55"/>
<path d="M390.36 332.93 V354.09 M389.16 332.93 h2.4 M389.16 354.09 h2.4" stroke="#e8a0c8" stroke-width="0.7" fill="none" stroke-opacity="0.55"/>
<path d="M391.76 330.32 V346.85 M390.56 330.32 h2.4 M390.56 346.85 h2.4" stroke="#d8a8d0" stroke-width="0.7" fill="none" stroke-opacity="0.55"/>
<path d="M392.70 304.63 V329.27 M391.50 304.63 h2.4 M391.50 329.27 h2.4" stroke="#b0dca8" stroke-width="0.7" fill="none" stroke-opacity="0.55"/>
<path d="M395.50 331.75 V352.67 M394.30 331.75 h2.4 M394.30 352.67 h2.4" stroke="#e8a0c8" stroke-width="0.7" fill="none" stroke-opacity="0.55"/>
<path d="M396.91 329.52 V346.06 M395.71 329.52 h2.4 M395.71 346.06 h2.4" stroke="#d8a8d0" stroke-width="0.7" fill="none" stroke-opacity="0.55"/>
<path d="M397.84 304.84 V329.04 M396.64 304.84 h2.4 M396.64 329.04 h2.4" stroke="#b0dca8" stroke-width="0.7" fill="none" stroke-opacity="0.55"/>
<path d="M400.65 330.97 V351.68 M399.45 330.97 h2.4 M399.45 351.68 h2.4" stroke="#e8a0c8" stroke-width="0.7" fill="none" stroke-opacity="0.55"/>
<path d="M402.06 329.08 V345.61 M400.86 329.08 h2.4 M400.86 345.61 h2.4" stroke="#d8a8d0" stroke-width="0.7" fill="none" stroke-opacity="0.55"/>
<path d="M402.99 305.02 V328.86 M401.79 305.02 h2.4 M401.79 328.86 h2.4" stroke="#b0dca8" stroke-width="0.7" fill="none" stroke-opacity="0.55"/>
<path d="M405.80 330.31 V350.84 M404.60 330.31 h2.4 M404.60 350.84 h2.4" stroke="#e8a0c8" stroke-width="0.7" fill="none" stroke-opacity="0.55"/>
<path d="M407.20 328.75 V345.28 M406.00 328.75 h2.4 M406.00 345.28 h2.4" stroke="#d8a8d0" stroke-width="0.7" fill="none" stroke-opacity="0.55"/>
<path d="M408.14 305.17 V328.71 M406.94 305.17 h2.4 M406.94 328.71 h2.4" stroke="#b0dca8" stroke-width="0.7" fill="none" stroke-opacity="0.55"/>
<path d="M410.95 329.70 V350.07 M409.75 329.70 h2.4 M409.75 350.07 h2.4" stroke="#e8a0c8" stroke-width="0.7" fill="none" stroke-opacity="0.55"/>
<path d="M412.35 328.45 V344.99 M411.15 328.45 h2.4 M411.15 344.99 h2.4" stroke="#d8a8d0" stroke-width="0.7" fill="none" stroke-opacity="0.55"/>
<path d="M413.29 305.30 V328.59 M412.09 305.30 h2.4 M412.09 328.59 h2.4" stroke="#b0dca8" stroke-width="0.7" fill="none" stroke-opacity="0.55"/>
<path d="M416.10 329.14 V349.37 M414.90 329.14 h2.4 M414.90 349.37 h2.4" stroke="#e8a0c8" stroke-width="0.7" fill="none" stroke-opacity="0.55"/>
<path d="M417.50 328.19 V344.73 M416.30 328.19 h2.4 M416.30 344.73 h2.4" stroke="#d8a8d0" stroke-width="0.7" fill="none" stroke-opacity="0.55"/>
<path d="M418.44 305.41 V328.49 M417.24 305.41 h2.4 M417.24 328.49 h2.4" stroke="#b0dca8" stroke-width="0.7" fill="none" stroke-opacity="0.55"/>
<path d="M421.24 328.61 V348.72 M420.04 328.61 h2.4 M420.04 348.72 h2.4" stroke="#e8a0c8" stroke-width="0.7" fill="none" stroke-opacity="0.55"/>
<path d="M422.65 327.95 V344.49 M421.45 327.95 h2.4 M421.45 344.49 h2.4" stroke="#d8a8d0" stroke-width="0.7" fill="none" stroke-opacity="0.55"/>
<path d="M423.58 305.51 V328.41 M422.38 305.51 h2.4 M422.38 328.41 h2.4" stroke="#b0dca8" stroke-width="0.7" fill="none" stroke-opacity="0.55"/>
<path d="M426.39 328.13 V348.14 M425.19 328.13 h2.4 M425.19 348.14 h2.4" stroke="#e8a0c8" stroke-width="0.7" fill="none" stroke-opacity="0.55"/>
<path d="M427.80 327.74 V344.28 M426.60 327.74 h2.4 M426.60 344.28 h2.4" stroke="#d8a8d0" stroke-width="0.7" fill="none" stroke-opacity="0.55"/>
<path d="M428.73 305.59 V328.35 M427.53 305.59 h2.4 M427.53 328.35 h2.4" stroke="#b0dca8" stroke-width="0.7" fill="none" stroke-opacity="0.55"/>
<path d="M431.54 327.69 V347.60 M430.34 327.69 h2.4 M430.34 347.60 h2.4" stroke="#e8a0c8" stroke-width="0.7" fill="none" stroke-opacity="0.55"/>
<path d="M432.94 327.56 V344.09 M431.74 327.56 h2.4 M431.74 344.09 h2.4" stroke="#d8a8d0" stroke-width="0.7" fill="none" stroke-opacity="0.55"/>
<path d="M433.88 305.66 V328.30 M432.68 305.66 h2.4 M432.68 328.30 h2.4" stroke="#b0dca8" stroke-width="0.7" fill="none" stroke-opacity="0.55"/>
<path d="M436.69 327.29 V347.12 M435.49 327.29 h2.4 M435.49 347.12 h2.4" stroke="#e8a0c8" stroke-width="0.7" fill="none" stroke-opacity="0.55"/>
<path d="M438.09 327.39 V343.92 M436.89 327.39 h2.4 M436.89 343.92 h2.4" stroke="#d8a8d0" stroke-width="0.7" fill="none" stroke-opacity="0.55"/>
<path d="M439.03 305.72 V328.26 M437.83 305.72 h2.4 M437.83 328.26 h2.4" stroke="#b0dca8" stroke-width="0.7" fill="none" stroke-opacity="0.55"/>
<path d="M441.84 326.92 V346.69 M440.64 326.92 h2.4 M440.64 346.69 h2.4" stroke="#e8a0c8" stroke-width="0.7" fill="none" stroke-opacity="0.55"/>
<path d="M443.24 327.24 V343.77 M442.04 327.24 h2.4 M442.04 343.77 h2.4" stroke="#d8a8d0" stroke-width="0.7" fill="none" stroke-opacity="0.55"/>
<path d="M444.18 305.77 V328.23 M442.98 305.77 h2.4 M442.98 328.23 h2.4" stroke="#b0dca8" stroke-width="0.7" fill="none" stroke-opacity="0.55"/>
<path d="M446.98 326.60 V346.30 M445.78 326.60 h2.4 M445.78 346.30 h2.4" stroke="#e8a0c8" stroke-width="0.7" fill="none" stroke-opacity="0.55"/>
<path d="M448.39 327.11 V343.64 M447.19 327.11 h2.4 M447.19 343.64 h2.4" stroke="#d8a8d0" stroke-width="0.7" fill="none" stroke-opacity="0.55"/>
<path d="M449.32 305.82 V328.21 M448.12 305.82 h2.4 M448.12 328.21 h2.4" stroke="#b0dca8" stroke-width="0.7" fill="none" stroke-opacity="0.55"/>
<path d="M452.13 326.30 V345.95 M450.93 326.30 h2.4 M450.93 345.95 h2.4" stroke="#e8a0c8" stroke-width="0.7" fill="none" stroke-opacity="0.55"/>
<path d="M453.54 326.99 V343.53 M452.34 326.99 h2.4 M452.34 343.53 h2.4" stroke="#d8a8d0" stroke-width="0.7" fill="none" stroke-opacity="0.55"/>
<path d="M454.47 305.86 V328.19 M453.27 305.86 h2.4 M453.27 328.19 h2.4" stroke="#b0dca8" stroke-width="0.7" fill="none" stroke-opacity="0.55"/>
<path d="M457.28 326.04 V345.65 M456.08 326.04 h2.4 M456.08 345.65 h2.4" stroke="#e8a0c8" stroke-width="0.7" fill="none" stroke-opacity="0.55"/>
<path d="M458.68 326.89 V343.42 M457.48 326.89 h2.4 M457.48 343.42 h2.4" stroke="#d8a8d0" stroke-width="0.7" fill="none" stroke-opacity="0.55"/>
<path d="M459.62 305.90 V328.18 M458.42 305.90 h2.4 M458.42 328.18 h2.4" stroke="#b0dca8" stroke-width="0.7" fill="none" stroke-opacity="0.55"/>
<path d="M462.43 325.81 V345.37 M461.23 325.81 h2.4 M461.23 345.37 h2.4" stroke="#e8a0c8" stroke-width="0.7" fill="none" stroke-opacity="0.55"/>
<path d="M463.83 326.80 V343.33 M462.63 326.80 h2.4 M462.63 343.33 h2.4" stroke="#d8a8d0" stroke-width="0.7" fill="none" stroke-opacity="0.55"/>
<path d="M464.77 305.93 V328.18 M463.57 305.93 h2.4 M463.57 328.18 h2.4" stroke="#b0dca8" stroke-width="0.7" fill="none" stroke-opacity="0.55"/>
<path d="M467.58 325.61 V345.14 M466.38 325.61 h2.4 M466.38 345.14 h2.4" stroke="#e8a0c8" stroke-width="0.7" fill="none" stroke-opacity="0.55"/>
<path d="M468.98 326.72 V343.26 M467.78 326.72 h2.4 M467.78 343.26 h2.4" stroke="#d8a8d0" stroke-width="0.7" fill="none" stroke-opacity="0.55"/>
<path d="M469.92 305.96 V328.18 M468.72 305.96 h2.4 M468.72 328.18 h2.4" stroke="#b0dca8" stroke-width="0.7" fill="none" stroke-opacity="0.55"/>
<path d="M472.72 325.44 V344.93 M471.52 325.44 h2.4 M471.52 344.93 h2.4" stroke="#e8a0c8" stroke-width="0.7" fill="none" stroke-opacity="0.55"/>
<path d="M474.13 326.65 V343.19 M472.93 326.65 h2.4 M472.93 343.19 h2.4" stroke="#d8a8d0" stroke-width="0.7" fill="none" stroke-opacity="0.55"/>
<path d="M475.06 305.99 V328.18 M473.86 305.99 h2.4 M473.86 328.18 h2.4" stroke="#b0dca8" stroke-width="0.7" fill="none" stroke-opacity="0.55"/>
<path d="M477.87 325.29 V344.76 M476.67 325.29 h2.4 M476.67 344.76 h2.4" stroke="#e8a0c8" stroke-width="0.7" fill="none" stroke-opacity="0.55"/>
<path d="M479.28 326.60 V343.14 M478.08 326.60 h2.4 M478.08 343.14 h2.4" stroke="#d8a8d0" stroke-width="0.7" fill="none" stroke-opacity="0.55"/>
<path d="M480.21 306.02 V328.18 M479.01 306.02 h2.4 M479.01 328.18 h2.4" stroke="#b0dca8" stroke-width="0.7" fill="none" stroke-opacity="0.55"/>
<path d="M483.02 325.17 V344.62 M481.82 325.17 h2.4 M481.82 344.62 h2.4" stroke="#e8a0c8" stroke-width="0.7" fill="none" stroke-opacity="0.55"/>
<path d="M484.42 326.55 V343.09 M483.22 326.55 h2.4 M483.22 343.09 h2.4" stroke="#d8a8d0" stroke-width="0.7" fill="none" stroke-opacity="0.55"/>
<path d="M485.36 306.05 V328.19 M484.16 306.05 h2.4 M484.16 328.19 h2.4" stroke="#b0dca8" stroke-width="0.7" fill="none" stroke-opacity="0.55"/>
<path d="M488.17 325.07 V344.50 M486.97 325.07 h2.4 M486.97 344.50 h2.4" stroke="#e8a0c8" stroke-width="0.7" fill="none" stroke-opacity="0.55"/>
<path d="M489.57 326.52 V343.05 M488.37 326.52 h2.4 M488.37 343.05 h2.4" stroke="#d8a8d0" stroke-width="0.7" fill="none" stroke-opacity="0.55"/>
<path d="M490.51 306.07 V328.20 M489.31 306.07 h2.4 M489.31 328.20 h2.4" stroke="#b0dca8" stroke-width="0.7" fill="none" stroke-opacity="0.55"/>
<path d="M493.32 324.99 V344.41 M492.12 324.99 h2.4 M492.12 344.41 h2.4" stroke="#e8a0c8" stroke-width="0.7" fill="none" stroke-opacity="0.55"/>
<path d="M494.72 326.49 V343.03 M493.52 326.49 h2.4 M493.52 343.03 h2.4" stroke="#d8a8d0" stroke-width="0.7" fill="none" stroke-opacity="0.55"/>
<path d="M495.66 306.10 V328.21 M494.46 306.10 h2.4 M494.46 328.21 h2.4" stroke="#b0dca8" stroke-width="0.7" fill="none" stroke-opacity="0.55"/>
<path d="M498.46 324.94 V344.34 M497.26 324.94 h2.4 M497.26 344.34 h2.4" stroke="#e8a0c8" stroke-width="0.7" fill="none" stroke-opacity="0.55"/>
<path d="M499.87 326.47 V343.00 M498.67 326.47 h2.4 M498.67 343.00 h2.4" stroke="#d8a8d0" stroke-width="0.7" fill="none" stroke-opacity="0.55"/>
<path d="M500.80 306.12 V328.22 M499.60 306.12 h2.4 M499.60 328.22 h2.4" stroke="#b0dca8" stroke-width="0.7" fill="none" stroke-opacity="0.55"/>
<path d="M503.61 324.91 V344.29 M502.41 324.91 h2.4 M502.41 344.29 h2.4" stroke="#e8a0c8" stroke-width="0.7" fill="none" stroke-opacity="0.55"/>
<path d="M505.02 326.46 V342.99 M503.82 326.46 h2.4 M503.82 342.99 h2.4" stroke="#d8a8d0" stroke-width="0.7" fill="none" stroke-opacity="0.55"/>
<path d="M505.95 306.14 V328.24 M504.75 306.14 h2.4 M504.75 328.24 h2.4" stroke="#b0dca8" stroke-width="0.7" fill="none" stroke-opacity="0.55"/>
<path d="M508.76 324.90 V344.27 M507.56 324.90 h2.4 M507.56 344.27 h2.4" stroke="#e8a0c8" stroke-width="0.7" fill="none" stroke-opacity="0.55"/>
<path d="M510.16 326.45 V342.99 M508.96 326.45 h2.4 M508.96 342.99 h2.4" stroke="#d8a8d0" stroke-width="0.7" fill="none" stroke-opacity="0.55"/>
<path d="M511.10 306.16 V328.25 M509.90 306.16 h2.4 M509.90 328.25 h2.4" stroke="#b0dca8" stroke-width="0.7" fill="none" stroke-opacity="0.55"/>
<path d="M305.18 301.64 L323.90 301.64 L323.90 415.33 L324.13 413.95 L324.37 412.69 L324.60 411.54 L324.84 410.50 L325.07 409.54 L325.30 408.65 L325.54 407.83 L325.77 407.06 L326.01 406.36 L326.24 405.71 L326.47 405.10 L326.71 404.53 L326.94 403.97 L327.18 403.43 L327.41 402.90 L327.64 402.38 L327.88 401.86 L328.11 401.34 L328.35 400.83 L328.58 400.32 L329.98 397.20 L331.39 393.31 L332.79 388.94 L334.20 384.73 L335.60 380.93 L337.00 377.64 L338.41 374.87 L339.81 372.61 L341.22 370.70 L342.62 368.96 L344.02 367.38 L345.43 365.92 L346.83 364.59 L348.24 363.35 L349.64 362.21 L351.04 361.14 L352.45 360.15 L353.85 359.23 L355.26 358.36 L356.66 357.55 L358.06 356.79 L359.47 356.08 L360.87 355.41 L362.28 354.80 L363.68 354.23 L365.08 353.69 L366.49 353.19 L367.89 352.70 L369.30 352.23 L370.70 351.78 L372.10 351.34 L373.51 350.90 L374.91 350.47 L376.32 350.04 L377.72 349.61 L379.12 349.19 L380.53 348.74 L381.93 348.29 L383.34 347.82 L384.74 347.35 L386.14 346.88 L387.55 346.43 L388.95 345.99 L390.36 345.57 L391.76 345.18 L393.16 344.81 L394.57 344.48 L395.97 344.18 L397.38 343.91 L398.78 343.67 L400.18 343.46 L401.59 343.26 L402.99 343.05 L404.40 342.85 L405.80 342.66 L407.20 342.47 L408.61 342.28 L410.01 342.10 L411.42 341.92 L412.82 341.75 L414.22 341.58 L415.63 341.41 L417.03 341.25 L418.44 341.09 L419.84 340.93 L421.24 340.78 L422.65 340.63 L424.05 340.49 L425.46 340.35 L426.86 340.21 L428.26 340.08 L429.67 339.95 L431.07 339.82 L432.48 339.70 L433.88 339.58 L435.28 339.46 L436.69 339.35 L438.09 339.24 L439.50 339.13 L440.90 339.03 L442.30 338.92 L443.71 338.83 L445.11 338.73 L446.52 338.64 L447.92 338.55 L449.32 338.46 L450.73 338.38 L452.13 338.29 L453.54 338.21 L454.94 338.14 L456.34 338.06 L457.75 337.99 L459.15 337.92 L460.56 337.86 L461.96 337.79 L463.36 337.73 L464.77 337.67 L466.17 337.61 L467.58 337.56 L468.98 337.50 L470.38 337.45 L471.79 337.40 L473.19 337.36 L474.60 337.31 L476.00 337.27 L477.40 337.23 L478.81 337.19 L480.21 337.16 L481.62 337.12 L483.02 337.09 L484.42 337.06 L485.83 337.03 L487.23 337.00 L488.64 336.97 L490.04 336.95 L491.44 336.93 L492.85 336.91 L494.25 336.89 L495.66 336.87 L497.06 336.86 L498.46 336.84 L499.87 336.83 L501.27 336.82 L502.68 336.81 L504.08 336.80 L505.48 336.80 L506.89 336.79 L508.29 336.79 L509.70 336.78 L511.10 336.78" stroke="#c4306e" stroke-width="1.3" fill="none" />
<path d="M305.18 301.64 L323.90 301.64 L323.90 417.26 L324.13 415.21 L324.37 413.41 L324.60 411.80 L324.84 410.35 L325.07 409.04 L325.30 407.83 L325.54 406.72 L325.77 405.68 L326.01 404.73 L326.24 403.86 L326.47 403.05 L326.71 402.28 L326.94 401.54 L327.18 400.83 L327.41 400.14 L327.64 399.47 L327.88 398.80 L328.11 398.14 L328.35 397.49 L328.58 396.85 L329.98 393.02 L331.39 388.59 L332.79 383.85 L334.20 379.40 L335.60 375.45 L337.00 372.09 L338.41 369.32 L339.81 367.10 L341.22 365.27 L342.62 363.65 L344.02 362.19 L345.43 360.88 L346.83 359.68 L348.24 358.58 L349.64 357.56 L351.04 356.61 L352.45 355.72 L353.85 354.89 L355.26 354.10 L356.66 353.34 L358.06 352.63 L359.47 351.94 L360.87 351.30 L362.28 350.70 L363.68 350.13 L365.08 349.60 L366.49 349.09 L367.89 348.60 L369.30 348.13 L370.70 347.67 L372.10 347.22 L373.51 346.78 L374.91 346.34 L376.32 345.91 L377.72 345.48 L379.12 345.05 L380.53 344.61 L381.93 344.15 L383.34 343.69 L384.74 343.22 L386.14 342.76 L387.55 342.31 L388.95 341.87 L390.36 341.45 L391.76 341.06 L393.16 340.69 L394.57 340.36 L395.97 340.05 L397.38 339.78 L398.78 339.54 L400.18 339.32 L401.59 339.11 L402.99 338.90 L404.40 338.70 L405.80 338.50 L407.20 338.30 L408.61 338.11 L410.01 337.92 L411.42 337.73 L412.82 337.55 L414.22 337.38 L415.63 337.21 L417.03 337.04 L418.44 336.87 L419.84 336.71 L421.24 336.55 L422.65 336.40 L424.05 336.25 L425.46 336.11 L426.86 335.96 L428.26 335.82 L429.67 335.69 L431.07 335.56 L432.48 335.43 L433.88 335.30 L435.28 335.18 L436.69 335.06 L438.09 334.95 L439.50 334.84 L440.90 334.73 L442.30 334.62 L443.71 334.52 L445.11 334.42 L446.52 334.32 L447.92 334.23 L449.32 334.14 L450.73 334.05 L452.13 333.96 L453.54 333.88 L454.94 333.80 L456.34 333.72 L457.75 333.65 L459.15 333.57 L460.56 333.50 L461.96 333.44 L463.36 333.37 L464.77 333.31 L466.17 333.25 L467.58 333.19 L468.98 333.13 L470.38 333.08 L471.79 333.03 L473.19 332.98 L474.60 332.93 L476.00 332.89 L477.40 332.85 L478.81 332.80 L480.21 332.77 L481.62 332.73 L483.02 332.69 L484.42 332.66 L485.83 332.63 L487.23 332.60 L488.64 332.58 L490.04 332.55 L491.44 332.53 L492.85 332.51 L494.25 332.49 L495.66 332.47 L497.06 332.45 L498.46 332.44 L499.87 332.42 L501.27 332.41 L502.68 332.40 L504.08 332.39 L505.48 332.39 L506.89 332.38 L508.29 332.38 L509.70 332.38 L511.10 332.37" stroke="#cc2030" stroke-width="1.3" fill="none" />
<path d="M305.18 301.64 L323.90 301.64 L323.90 402.93 L324.13 400.78 L324.37 398.87 L324.60 397.15 L324.84 395.59 L325.07 394.17 L325.30 392.86 L325.54 391.65 L325.77 390.53 L326.01 389.47 L326.24 388.47 L326.47 387.51 L326.71 386.60 L326.94 385.72 L327.18 384.88 L327.41 384.06 L327.64 383.28 L327.88 382.52 L328.11 381.78 L328.35 381.06 L328.58 380.36 L329.98 376.50 L331.39 372.84 L332.79 369.36 L334.20 366.24 L335.60 363.50 L337.00 361.14 L338.41 359.14 L339.81 357.45 L341.22 355.99 L342.62 354.64 L344.02 353.41 L345.43 352.28 L346.83 351.25 L348.24 350.30 L349.64 349.43 L351.04 348.63 L352.45 347.90 L353.85 347.22 L355.26 346.61 L356.66 346.04 L358.06 345.52 L359.47 345.05 L360.87 344.63 L362.28 344.24 L363.68 343.89 L365.08 343.57 L366.49 343.27 L367.89 342.99 L369.30 342.72 L370.70 342.45 L372.10 342.20 L373.51 341.94 L374.91 341.69 L376.32 341.44 L377.72 341.18 L379.12 340.92 L380.53 340.64 L381.93 340.35 L383.34 340.05 L384.74 339.74 L386.14 339.44 L387.55 339.14 L388.95 338.85 L390.36 338.58 L391.76 338.34 L393.16 338.11 L394.57 337.91 L395.97 337.73 L397.38 337.59 L398.78 337.47 L400.18 337.38 L401.59 337.28 L402.99 337.19 L404.40 337.10 L405.80 337.02 L407.20 336.93 L408.61 336.85 L410.01 336.77 L411.42 336.70 L412.82 336.62 L414.22 336.55 L415.63 336.48 L417.03 336.41 L418.44 336.35 L419.84 336.28 L421.24 336.22 L422.65 336.16 L424.05 336.10 L425.46 336.05 L426.86 335.99 L428.26 335.94 L429.67 335.89 L431.07 335.84 L432.48 335.79 L433.88 335.74 L435.28 335.70 L436.69 335.66 L438.09 335.61 L439.50 335.57 L440.90 335.53 L442.30 335.49 L443.71 335.46 L445.11 335.42 L446.52 335.39 L447.92 335.35 L449.32 335.32 L450.73 335.29 L452.13 335.26 L453.54 335.23 L454.94 335.20 L456.34 335.17 L457.75 335.15 L459.15 335.12 L460.56 335.10 L461.96 335.07 L463.36 335.05 L464.77 335.03 L466.17 335.01 L467.58 334.99 L468.98 334.97 L470.38 334.95 L471.79 334.93 L473.19 334.92 L474.60 334.90 L476.00 334.89 L477.40 334.87 L478.81 334.86 L480.21 334.85 L481.62 334.83 L483.02 334.82 L484.42 334.81 L485.83 334.80 L487.23 334.79 L488.64 334.78 L490.04 334.77 L491.44 334.77 L492.85 334.76 L494.25 334.75 L495.66 334.75 L497.06 334.74 L498.46 334.74 L499.87 334.73 L501.27 334.73 L502.68 334.73 L504.08 334.72 L505.48 334.72 L506.89 334.72 L508.29 334.72 L509.70 334.72 L511.10 334.72" stroke="#4c1c70" stroke-width="1.3" fill="none" />
<path d="M305.18 301.64 L323.90 301.64 L323.90 390.53 L324.13 387.89 L324.37 385.42 L324.60 383.13 L324.84 381.02 L325.07 379.07 L325.30 377.25 L325.54 375.57 L325.77 373.99 L326.01 372.47 L326.24 370.95 L326.47 369.47 L326.71 368.03 L326.94 366.64 L327.18 365.29 L327.41 364.00 L327.64 362.76 L327.88 361.57 L328.11 360.44 L328.35 359.35 L328.58 358.32 L329.98 353.01 L331.39 348.60 L332.79 344.73 L334.20 341.42 L335.60 338.60 L337.00 336.24 L338.41 334.27 L339.81 332.65 L341.22 331.25 L342.62 329.98 L344.02 328.83 L345.43 327.79 L346.83 326.84 L348.24 325.98 L349.64 325.21 L351.04 324.51 L352.45 323.89 L353.85 323.33 L355.26 322.82 L356.66 322.37 L358.06 321.98 L359.47 321.63 L360.87 321.31 L362.28 321.03 L363.68 320.78 L365.08 320.54 L366.49 320.32 L367.89 320.12 L369.30 319.93 L370.70 319.76 L372.10 319.59 L373.51 319.44 L374.91 319.29 L376.32 319.14 L377.72 319.00 L379.12 318.87 L380.53 318.74 L381.93 318.60 L383.34 318.47 L384.74 318.34 L386.14 318.22 L387.55 318.10 L388.95 317.99 L390.36 317.89 L391.76 317.80 L393.16 317.71 L394.57 317.64 L395.97 317.58 L397.38 317.53 L398.78 317.49 L400.18 317.46 L401.59 317.43 L402.99 317.40 L404.40 317.37 L405.80 317.35 L407.20 317.32 L408.61 317.30 L410.01 317.27 L411.42 317.25 L412.82 317.22 L414.22 317.20 L415.63 317.18 L417.03 317.16 L418.44 317.14 L419.84 317.12 L421.24 317.10 L422.65 317.08 L424.05 317.07 L425.46 317.05 L426.86 317.03 L428.26 317.02 L429.67 317.00 L431.07 316.99 L432.48 316.97 L433.88 316.96 L435.28 316.95 L436.69 316.93 L438.09 316.92 L439.50 316.91 L440.90 316.90 L442.30 316.88 L443.71 316.87 L445.11 316.86 L446.52 316.85 L447.92 316.84 L449.32 316.83 L450.73 316.83 L452.13 316.82 L453.54 316.81 L454.94 316.80 L456.34 316.79 L457.75 316.78 L459.15 316.78 L460.56 316.77 L461.96 316.76 L463.36 316.76 L464.77 316.75 L466.17 316.75 L467.58 316.74 L468.98 316.74 L470.38 316.73 L471.79 316.73 L473.19 316.72 L474.60 316.72 L476.00 316.71 L477.40 316.71 L478.81 316.70 L480.21 316.70 L481.62 316.70 L483.02 316.69 L484.42 316.69 L485.83 316.69 L487.23 316.69 L488.64 316.68 L490.04 316.68 L491.44 316.68 L492.85 316.68 L494.25 316.67 L495.66 316.67 L497.06 316.67 L498.46 316.67 L499.87 316.67 L501.27 316.67 L502.68 316.67 L504.08 316.67 L505.48 316.67 L506.89 316.67 L508.29 316.67 L509.70 316.67 L511.10 316.67" stroke="#3050a0" stroke-width="1.3" fill="none" />
<path d="M305.18 301.64 L323.90 301.64 L323.90 369.86 L324.13 366.15 L324.37 363.04 L324.60 360.35 L324.84 357.98 L325.07 355.86 L325.30 353.94 L325.54 352.18 L325.77 350.56 L326.01 349.02 L326.24 347.53 L326.47 346.09 L326.71 344.73 L326.94 343.43 L327.18 342.20 L327.41 341.05 L327.64 339.97 L327.88 338.95 L328.11 338.00 L328.35 337.11 L328.58 336.29 L329.98 332.45 L331.39 329.73 L332.79 327.55 L334.20 325.81 L335.60 324.40 L337.00 323.27 L338.41 322.35 L339.81 321.63 L341.22 321.00 L342.62 320.42 L344.02 319.89 L345.43 319.42 L346.83 318.99 L348.24 318.62 L349.64 318.30 L351.04 318.02 L352.45 317.79 L353.85 317.60 L355.26 317.45 L356.66 317.34 L358.06 317.26 L359.47 317.22 L360.87 317.19 L362.28 317.17 L363.68 317.14 L365.08 317.12 L366.49 317.11 L367.89 317.09 L369.30 317.07 L370.70 317.06 L372.10 317.04 L373.51 317.03 L374.91 317.02 L376.32 317.01 L377.72 317.00 L379.12 316.99 L380.53 316.98 L381.93 316.98 L383.34 316.97 L384.74 316.96 L386.14 316.96 L387.55 316.96 L388.95 316.95 L390.36 316.95 L391.76 316.95 L393.16 316.94 L394.57 316.94 L395.97 316.94 L397.38 316.94 L398.78 316.94 L400.18 316.94 L401.59 316.94 L402.99 316.94 L404.40 316.94 L405.80 316.94 L407.20 316.94 L408.61 316.94 L410.01 316.95 L411.42 316.95 L412.82 316.95 L414.22 316.95 L415.63 316.95 L417.03 316.95 L418.44 316.96 L419.84 316.96 L421.24 316.96 L422.65 316.96 L424.05 316.96 L425.46 316.97 L426.86 316.97 L428.26 316.97 L429.67 316.97 L431.07 316.98 L432.48 316.98 L433.88 316.98 L435.28 316.99 L436.69 316.99 L438.09 316.99 L439.50 316.99 L440.90 317.00 L442.30 317.00 L443.71 317.00 L445.11 317.01 L446.52 317.01 L447.92 317.01 L449.32 317.02 L450.73 317.02 L452.13 317.03 L453.54 317.03 L454.94 317.03 L456.34 317.04 L457.75 317.04 L459.15 317.05 L460.56 317.05 L461.96 317.05 L463.36 317.06 L464.77 317.06 L466.17 317.07 L467.58 317.07 L468.98 317.07 L470.38 317.08 L471.79 317.08 L473.19 317.09 L474.60 317.09 L476.00 317.10 L477.40 317.10 L478.81 317.11 L480.21 317.11 L481.62 317.11 L483.02 317.12 L484.42 317.12 L485.83 317.13 L487.23 317.13 L488.64 317.14 L490.04 317.14 L491.44 317.15 L492.85 317.15 L494.25 317.16 L495.66 317.16 L497.06 317.17 L498.46 317.17 L499.87 317.18 L501.27 317.18 L502.68 317.19 L504.08 317.19 L505.48 317.20 L506.89 317.20 L508.29 317.21 L509.70 317.21 L511.10 317.22" stroke="#5cb848" stroke-width="1.3" fill="none" />
<path d="M305.18 301.64 L306.12 301.15 L307.05 301.52 L307.99 301.62 L308.92 302.16 L309.86 301.72 L310.80 301.74 L311.73 301.67 L312.67 301.82 L313.60 301.66 L314.54 301.78 L315.48 302.01 L316.41 301.40 L317.35 301.40 L318.28 301.17 L319.22 301.63 L320.16 301.76 L321.09 301.80 L322.03 302.07 L322.96 301.37 L323.90 301.95 L324.84 303.67 L325.77 304.66 L326.71 305.13 L327.64 306.18 L328.58 307.07 L329.52 307.41 L330.45 307.38 L331.39 307.87 L332.32 308.27 L333.26 308.33 L334.20 308.24 L335.13 308.06 L336.07 309.10 L337.00 309.06 L337.94 309.25 L338.88 309.82 L339.81 309.53 L340.75 309.67 L341.68 309.20 L342.62 309.66 L343.56 310.18 L344.49 309.66 L345.43 310.05 L346.36 310.54 L347.30 310.33 L348.24 310.43 L349.17 310.61 L350.11 310.46 L351.04 311.19 L351.98 310.75 L352.92 310.49 L353.85 310.63 L354.79 310.66 L355.72 310.75 L356.66 310.74 L357.60 311.55 L358.53 311.10 L359.47 311.94 L360.40 311.68 L361.34 312.13 L362.28 311.41 L363.21 311.41 L364.15 311.92 L365.08 311.46 L366.02 312.22 L366.96 312.08 L367.89 312.16 L368.83 312.58 L369.76 312.24 L370.70 311.91 L371.64 312.80 L372.57 312.35 L373.51 312.72 L374.44 312.26 L375.38 312.69 L376.32 312.72 L377.25 312.80 L378.19 312.98 L379.12 313.51 L380.06 312.81 L381.00 313.64 L381.93 313.27 L382.87 313.23 L383.80 313.70 L384.74 313.50 L385.68 313.28 L386.61 313.67 L387.55 313.98 L388.48 314.60 L389.42 314.13 L390.36 314.09 L391.29 314.13 L392.23 314.31 L393.16 314.00 L394.10 314.33 L395.04 314.26 L395.97 314.10 L396.91 314.58 L397.84 314.49 L398.78 313.87 L399.72 314.28 L400.65 314.93 L401.59 314.65 L402.52 314.53 L403.46 314.40 L404.40 314.75 L405.33 314.99 L406.27 315.10 L407.20 314.77 L408.14 314.91 L409.08 315.19 L410.01 315.15 L410.95 315.26 L411.88 315.00 L412.82 315.43 L413.76 315.16 L414.69 315.10 L415.63 315.25 L416.56 315.66 L417.50 315.11 L418.44 315.71 L419.37 315.45 L420.31 315.82 L421.24 316.13 L422.18 315.63 L423.12 315.66 L424.05 315.80 L424.99 315.75 L425.92 316.04 L426.86 316.11 L427.80 315.99 L428.73 315.46 L429.67 315.80 L430.60 316.21 L431.54 315.95 L432.48 316.27 L433.41 316.31 L434.35 315.98 L435.28 316.40 L436.22 316.75 L437.16 316.58 L438.09 316.34 L439.03 316.36 L439.96 316.09 L440.90 316.66 L441.84 316.30 L442.77 316.42 L443.71 316.61 L444.64 316.37 L445.58 316.50 L446.52 316.90 L447.45 316.40 L448.39 317.07 L449.32 316.74 L450.26 316.79 L451.20 316.71 L452.13 317.05 L453.07 316.89 L454.00 316.95 L454.94 316.67 L455.88 317.19 L456.81 316.98 L457.75 317.10 L458.68 317.41 L459.62 316.35 L460.56 317.13 L461.49 317.55 L462.43 316.78 L463.36 317.49 L464.30 317.11 L465.24 317.00 L466.17 317.45 L467.11 317.41 L468.04 317.47 L468.98 317.38 L469.92 317.81 L470.85 317.73 L471.79 317.45 L472.72 317.15 L473.66 317.29 L474.60 317.01 L475.53 317.32 L476.47 317.67 L477.40 317.59 L478.34 318.14 L479.28 317.86 L480.21 317.90 L481.15 317.57 L482.08 317.48 L483.02 317.84 L483.96 317.87 L484.89 318.15 L485.83 317.78 L486.76 317.70 L487.70 317.66 L488.64 318.02 L489.57 317.28 L490.51 317.51 L491.44 317.89 L492.38 318.03 L493.32 317.99 L494.25 317.88 L495.19 317.94 L496.12 317.82 L497.06 317.76 L498.00 317.61 L498.93 317.69 L499.87 318.05 L500.80 317.93 L501.74 318.16 L502.68 318.24 L503.61 317.56 L504.55 318.23 L505.48 317.57 L506.42 318.23 L507.36 318.08 L508.29 317.87 L509.23 318.18 L510.16 318.09 L511.10 318.28" stroke="#111" stroke-width="1.3" fill="none" />
<line x1="323.90" y1="301.64" x2="323.90" y2="416.71" stroke="#6a2070" stroke-width="1.3" />
<line x1="305.30" y1="284.30" x2="305.30" y2="436.70" stroke="#1a1a1a" stroke-width="1.5" />
<line x1="304.60" y1="436.00" x2="511.30" y2="436.00" stroke="#1a1a1a" stroke-width="1.5" />
<line x1="302.30" y1="436.00" x2="305.30" y2="436.00" stroke="#222" stroke-width="1" />
<text x="300.20" y="439.00" font-size="8.4" font-weight="normal" text-anchor="end" fill="#333" >0.0</text>
<line x1="303.30" y1="422.22" x2="305.30" y2="422.22" stroke="#222" stroke-width="1" />
<line x1="302.30" y1="408.44" x2="305.30" y2="408.44" stroke="#222" stroke-width="1" />
<text x="300.20" y="411.44" font-size="8.4" font-weight="normal" text-anchor="end" fill="#333" >0.2</text>
<line x1="303.30" y1="394.66" x2="305.30" y2="394.66" stroke="#222" stroke-width="1" />
<line x1="302.30" y1="380.88" x2="305.30" y2="380.88" stroke="#222" stroke-width="1" />
<text x="300.20" y="383.88" font-size="8.4" font-weight="normal" text-anchor="end" fill="#333" >0.4</text>
<line x1="303.30" y1="367.10" x2="305.30" y2="367.10" stroke="#222" stroke-width="1" />
<line x1="302.30" y1="353.32" x2="305.30" y2="353.32" stroke="#222" stroke-width="1" />
<text x="300.20" y="356.32" font-size="8.4" font-weight="normal" text-anchor="end" fill="#333" >0.6</text>
<line x1="303.30" y1="339.54" x2="305.30" y2="339.54" stroke="#222" stroke-width="1" />
<line x1="302.30" y1="325.76" x2="305.30" y2="325.76" stroke="#222" stroke-width="1" />
<text x="300.20" y="328.76" font-size="8.4" font-weight="normal" text-anchor="end" fill="#333" >0.8</text>
<line x1="303.30" y1="311.98" x2="305.30" y2="311.98" stroke="#222" stroke-width="1" />
<line x1="302.30" y1="298.20" x2="305.30" y2="298.20" stroke="#222" stroke-width="1" />
<text x="300.20" y="301.20" font-size="8.4" font-weight="normal" text-anchor="end" fill="#333" >1.0</text>
<line x1="303.30" y1="284.42" x2="305.30" y2="284.42" stroke="#222" stroke-width="1" />
<line x1="323.90" y1="436.00" x2="323.90" y2="439.00" stroke="#222" stroke-width="1" />
<text x="323.90" y="448.60" font-size="8.6" font-weight="normal" text-anchor="middle" fill="#333" >0</text>
<line x1="347.30" y1="436.00" x2="347.30" y2="438.00" stroke="#222" stroke-width="1" />
<line x1="370.70" y1="436.00" x2="370.70" y2="439.00" stroke="#222" stroke-width="1" />
<text x="370.70" y="448.60" font-size="8.6" font-weight="normal" text-anchor="middle" fill="#333" >50</text>
<line x1="394.10" y1="436.00" x2="394.10" y2="438.00" stroke="#222" stroke-width="1" />
<line x1="417.50" y1="436.00" x2="417.50" y2="439.00" stroke="#222" stroke-width="1" />
<text x="417.50" y="448.60" font-size="8.6" font-weight="normal" text-anchor="middle" fill="#333" >100</text>
<line x1="440.90" y1="436.00" x2="440.90" y2="438.00" stroke="#222" stroke-width="1" />
<line x1="464.30" y1="436.00" x2="464.30" y2="439.00" stroke="#222" stroke-width="1" />
<text x="464.30" y="448.60" font-size="8.6" font-weight="normal" text-anchor="middle" fill="#333" >150</text>
<line x1="487.70" y1="436.00" x2="487.70" y2="438.00" stroke="#222" stroke-width="1" />
<line x1="511.10" y1="436.00" x2="511.10" y2="439.00" stroke="#222" stroke-width="1" />
<text x="511.10" y="448.60" font-size="8.6" font-weight="normal" text-anchor="middle" fill="#333" >200</text>
<text x="421.20" y="464.80" font-size="15.4" font-weight="normal" text-anchor="middle" fill="#111" >Time(s)</text>
<text x="279.80" y="354.10" font-size="13" font-weight="normal" text-anchor="middle" fill="#111" transform="rotate(-90 279.80 354.10)" textLength="123" lengthAdjust="spacingAndGlyphs">Averaged Intensity</text>
<line x1="422.60" y1="376.50" x2="442.60" y2="376.50" stroke="#80b880" stroke-width="1.3" />
<text x="447.20" y="379.20" font-size="7.45" font-weight="normal" text-anchor="start" fill="#222" >EGFP</text>
<line x1="422.60" y1="384.12" x2="442.60" y2="384.12" stroke="#c84050" stroke-width="1.3" />
<text x="447.20" y="386.82" font-size="7.45" font-weight="normal" text-anchor="start" fill="#222" >WT</text>
<line x1="422.60" y1="391.74" x2="442.60" y2="391.74" stroke="#4070a8" stroke-width="1.3" />
<text x="447.20" y="394.44" font-size="7.45" font-weight="normal" text-anchor="start" fill="#222" >WASP dEVH1</text>
<line x1="422.60" y1="399.36" x2="442.60" y2="399.36" stroke="#e0a0c8" stroke-width="1.3" />
<text x="447.20" y="402.06" font-size="7.45" font-weight="normal" text-anchor="start" fill="#222" >WASP T45M</text>
<line x1="422.60" y1="406.98" x2="442.60" y2="406.98" stroke="#6a60a8" stroke-width="1.3" />
<text x="447.20" y="409.68" font-size="7.45" font-weight="normal" text-anchor="start" fill="#222" >WASP A134T</text>
<line x1="422.60" y1="414.60" x2="442.60" y2="414.60" stroke="#111" stroke-width="1.3" />
<text x="447.20" y="417.30" font-size="7.45" font-weight="normal" text-anchor="start" fill="#222" >bleaching</text>
<path d="M128.53 527.54 V611.51 M127.43 527.54 h2.2 M127.43 611.51 h2.2 M127.43 580.25 h2.2 M127.43 563.97 h2.2 M127.43 547.64 h2.2 M127.43 579.80 h2.2" stroke="#c8a0b8" stroke-width="0.7" fill="none" stroke-opacity="0.6"/>
<path d="M154.39 524.44 V590.13 M153.29 524.44 h2.2 M153.29 590.13 h2.2 M153.29 565.40 h2.2 M153.29 554.25 h2.2 M153.29 537.93 h2.2 M153.29 566.61 h2.2" stroke="#c8a0b8" stroke-width="0.7" fill="none" stroke-opacity="0.6"/>
<path d="M169.51 523.32 V578.57 M168.41 523.32 h2.2 M168.41 578.57 h2.2 M168.41 557.05 h2.2 M168.41 549.33 h2.2 M168.41 533.47 h2.2 M168.41 558.84 h2.2" stroke="#c8a0b8" stroke-width="0.7" fill="none" stroke-opacity="0.6"/>
<path d="M180.24 523.12 V571.55 M179.14 523.12 h2.2 M179.14 571.55 h2.2 M179.14 551.95 h2.2 M179.14 546.37 h2.2 M179.14 531.37 h2.2 M179.14 553.95 h2.2" stroke="#c8a0b8" stroke-width="0.7" fill="none" stroke-opacity="0.6"/>
<path d="M188.56 523.15 V566.23 M187.46 523.15 h2.2 M187.46 566.23 h2.2 M187.46 548.09 h2.2 M187.46 544.22 h2.2 M187.46 530.01 h2.2 M187.46 550.12 h2.2" stroke="#c8a0b8" stroke-width="0.7" fill="none" stroke-opacity="0.6"/>
<path d="M195.37 523.24 V562.09 M194.27 523.24 h2.2 M194.27 562.09 h2.2 M194.27 545.07 h2.2 M194.27 542.56 h2.2 M194.27 529.01 h2.2 M194.27 547.08 h2.2" stroke="#c8a0b8" stroke-width="0.7" fill="none" stroke-opacity="0.6"/>
<path d="M201.12 523.37 V558.88 M200.02 523.37 h2.2 M200.02 558.88 h2.2 M200.02 542.71 h2.2 M200.02 541.27 h2.2 M200.02 528.28 h2.2 M200.02 544.70 h2.2" stroke="#c8a0b8" stroke-width="0.7" fill="none" stroke-opacity="0.6"/>
<path d="M201.92 525.87 V532.56 M200.82 525.87 h2.2" stroke="#a8d8a0" stroke-width="0.7" fill="none" stroke-opacity="0.6"/>
<path d="M206.10 523.51 V556.41 M205.00 523.51 h2.2 M205.00 556.41 h2.2 M205.00 540.87 h2.2 M205.00 540.24 h2.2 M205.00 527.75 h2.2 M205.00 542.83 h2.2" stroke="#c8a0b8" stroke-width="0.7" fill="none" stroke-opacity="0.6"/>
<path d="M206.90 525.63 V532.44 M205.80 525.63 h2.2" stroke="#a8d8a0" stroke-width="0.7" fill="none" stroke-opacity="0.6"/>
<path d="M210.49 523.65 V554.50 M209.39 523.65 h2.2 M209.39 554.50 h2.2 M209.39 539.44 h2.2 M209.39 539.42 h2.2 M209.39 527.37 h2.2 M209.39 541.38 h2.2" stroke="#c8a0b8" stroke-width="0.7" fill="none" stroke-opacity="0.6"/>
<path d="M211.29 525.42 V532.34 M210.19 525.42 h2.2" stroke="#a8d8a0" stroke-width="0.7" fill="none" stroke-opacity="0.6"/>
<path d="M214.42 523.80 V553.03 M213.32 523.80 h2.2 M213.32 553.03 h2.2 M213.32 538.34 h2.2 M213.32 538.77 h2.2 M213.32 527.11 h2.2 M213.32 540.27 h2.2" stroke="#c8a0b8" stroke-width="0.7" fill="none" stroke-opacity="0.6"/>
<path d="M215.22 525.24 V532.28 M214.12 525.24 h2.2" stroke="#a8d8a0" stroke-width="0.7" fill="none" stroke-opacity="0.6"/>
<path d="M217.97 523.94 V551.92 M216.87 523.94 h2.2 M216.87 551.92 h2.2 M216.87 537.50 h2.2 M216.87 538.25 h2.2 M216.87 526.94 h2.2 M216.87 539.42 h2.2" stroke="#c8a0b8" stroke-width="0.7" fill="none" stroke-opacity="0.6"/>
<path d="M218.77 525.07 V532.23 M217.67 525.07 h2.2" stroke="#a8d8a0" stroke-width="0.7" fill="none" stroke-opacity="0.6"/>
<path d="M221.22 524.08 V551.07 M220.12 524.08 h2.2 M220.12 551.07 h2.2 M220.12 536.85 h2.2 M220.12 537.82 h2.2 M220.12 526.84 h2.2 M220.12 538.77 h2.2" stroke="#c8a0b8" stroke-width="0.7" fill="none" stroke-opacity="0.6"/>
<path d="M222.02 524.92 V532.19 M220.92 524.92 h2.2" stroke="#a8d8a0" stroke-width="0.7" fill="none" stroke-opacity="0.6"/>
<path d="M224.21 524.20 V550.32 M223.11 524.20 h2.2 M223.11 550.32 h2.2 M223.11 536.27 h2.2 M223.11 537.44 h2.2 M223.11 526.76 h2.2 M223.11 538.19 h2.2" stroke="#c8a0b8" stroke-width="0.7" fill="none" stroke-opacity="0.6"/>
<path d="M225.01 524.77 V532.16 M223.91 524.77 h2.2" stroke="#a8d8a0" stroke-width="0.7" fill="none" stroke-opacity="0.6"/>
<path d="M226.97 524.32 V549.65 M225.87 524.32 h2.2 M225.87 549.65 h2.2 M225.87 535.75 h2.2 M225.87 537.10 h2.2 M225.87 526.68 h2.2 M225.87 537.67 h2.2" stroke="#c8a0b8" stroke-width="0.7" fill="none" stroke-opacity="0.6"/>
<path d="M227.77 524.62 V532.13 M226.67 524.62 h2.2" stroke="#a8d8a0" stroke-width="0.7" fill="none" stroke-opacity="0.6"/>
<path d="M229.54 524.42 V549.05 M228.44 524.42 h2.2 M228.44 549.05 h2.2 M228.44 535.29 h2.2 M228.44 536.80 h2.2 M228.44 526.62 h2.2 M228.44 537.20 h2.2" stroke="#c8a0b8" stroke-width="0.7" fill="none" stroke-opacity="0.6"/>
<path d="M230.34 524.48 V532.11 M229.24 524.48 h2.2" stroke="#a8d8a0" stroke-width="0.7" fill="none" stroke-opacity="0.6"/>
<path d="M231.95 524.51 V548.51 M230.85 524.51 h2.2 M230.85 548.51 h2.2 M230.85 534.86 h2.2 M230.85 536.52 h2.2 M230.85 526.56 h2.2 M230.85 536.78 h2.2" stroke="#c8a0b8" stroke-width="0.7" fill="none" stroke-opacity="0.6"/>
<path d="M232.75 524.34 V532.08 M231.65 524.34 h2.2" stroke="#a8d8a0" stroke-width="0.7" fill="none" stroke-opacity="0.6"/>
<path d="M234.21 524.60 V548.02 M233.11 524.60 h2.2 M233.11 548.02 h2.2 M233.11 534.48 h2.2 M233.11 536.26 h2.2 M233.11 526.51 h2.2 M233.11 536.39 h2.2" stroke="#c8a0b8" stroke-width="0.7" fill="none" stroke-opacity="0.6"/>
<path d="M235.01 524.20 V532.06 M233.91 524.20 h2.2" stroke="#a8d8a0" stroke-width="0.7" fill="none" stroke-opacity="0.6"/>
<path d="M236.34 524.68 V547.59 M235.24 524.68 h2.2 M235.24 547.59 h2.2 M235.24 534.13 h2.2 M235.24 536.03 h2.2 M235.24 526.46 h2.2 M235.24 536.04 h2.2" stroke="#c8a0b8" stroke-width="0.7" fill="none" stroke-opacity="0.6"/>
<path d="M237.14 524.06 V532.04 M236.04 524.06 h2.2" stroke="#a8d8a0" stroke-width="0.7" fill="none" stroke-opacity="0.6"/>
<path d="M238.36 524.75 V547.19 M237.26 524.75 h2.2 M237.26 547.19 h2.2 M237.26 533.82 h2.2 M237.26 535.82 h2.2 M237.26 526.42 h2.2 M237.26 535.73 h2.2" stroke="#c8a0b8" stroke-width="0.7" fill="none" stroke-opacity="0.6"/>
<path d="M239.16 523.93 V532.03 M238.06 523.93 h2.2" stroke="#a8d8a0" stroke-width="0.7" fill="none" stroke-opacity="0.6"/>
<path d="M240.27 524.81 V546.83 M239.17 524.81 h2.2 M239.17 546.83 h2.2 M239.17 533.53 h2.2 M239.17 535.63 h2.2 M239.17 526.38 h2.2 M239.17 535.44 h2.2" stroke="#c8a0b8" stroke-width="0.7" fill="none" stroke-opacity="0.6"/>
<path d="M241.07 523.79 V532.01 M239.97 523.79 h2.2" stroke="#a8d8a0" stroke-width="0.7" fill="none" stroke-opacity="0.6"/>
<path d="M242.09 524.87 V546.51 M240.99 524.87 h2.2 M240.99 546.51 h2.2 M240.99 533.27 h2.2 M240.99 535.45 h2.2 M240.99 526.35 h2.2 M240.99 535.18 h2.2" stroke="#c8a0b8" stroke-width="0.7" fill="none" stroke-opacity="0.6"/>
<path d="M242.89 523.66 V532.00 M241.79 523.66 h2.2" stroke="#a8d8a0" stroke-width="0.7" fill="none" stroke-opacity="0.6"/>
<path d="M243.83 524.92 V546.22 M242.73 524.92 h2.2 M242.73 546.22 h2.2 M242.73 533.03 h2.2 M242.73 535.28 h2.2 M242.73 526.32 h2.2 M242.73 534.94 h2.2" stroke="#c8a0b8" stroke-width="0.7" fill="none" stroke-opacity="0.6"/>
<path d="M244.63 523.53 V531.99 M243.53 523.53 h2.2" stroke="#a8d8a0" stroke-width="0.7" fill="none" stroke-opacity="0.6"/>
<path d="M245.49 524.97 V545.95 M244.39 524.97 h2.2 M244.39 545.95 h2.2 M244.39 532.81 h2.2 M244.39 535.13 h2.2 M244.39 526.29 h2.2 M244.39 534.72 h2.2" stroke="#c8a0b8" stroke-width="0.7" fill="none" stroke-opacity="0.6"/>
<path d="M246.29 523.40 V531.98 M245.19 523.40 h2.2" stroke="#a8d8a0" stroke-width="0.7" fill="none" stroke-opacity="0.6"/>
<path d="M247.07 525.01 V545.71 M245.97 525.01 h2.2 M245.97 545.71 h2.2 M245.97 532.62 h2.2 M245.97 535.00 h2.2 M245.97 526.27 h2.2 M245.97 534.52 h2.2" stroke="#c8a0b8" stroke-width="0.7" fill="none" stroke-opacity="0.6"/>
<path d="M247.87 523.28 V531.97 M246.77 523.28 h2.2" stroke="#a8d8a0" stroke-width="0.7" fill="none" stroke-opacity="0.6"/>
<path d="M248.60 525.05 V545.49 M247.50 525.05 h2.2 M247.50 545.49 h2.2 M247.50 532.44 h2.2 M247.50 534.87 h2.2 M247.50 526.25 h2.2 M247.50 534.34 h2.2" stroke="#c8a0b8" stroke-width="0.7" fill="none" stroke-opacity="0.6"/>
<path d="M249.40 523.15 V531.96 M248.30 523.15 h2.2" stroke="#a8d8a0" stroke-width="0.7" fill="none" stroke-opacity="0.6"/>
<path d="M250.06 525.09 V545.30 M248.96 525.09 h2.2 M248.96 545.30 h2.2 M248.96 532.28 h2.2 M248.96 534.75 h2.2 M248.96 526.23 h2.2 M248.96 534.18 h2.2" stroke="#c8a0b8" stroke-width="0.7" fill="none" stroke-opacity="0.6"/>
<path d="M250.86 523.03 V531.95 M249.76 523.03 h2.2" stroke="#a8d8a0" stroke-width="0.7" fill="none" stroke-opacity="0.6"/>
<path d="M251.47 525.12 V545.12 M250.37 525.12 h2.2 M250.37 545.12 h2.2 M250.37 532.13 h2.2 M250.37 534.65 h2.2 M250.37 526.21 h2.2 M250.37 534.03 h2.2" stroke="#c8a0b8" stroke-width="0.7" fill="none" stroke-opacity="0.6"/>
<path d="M252.27 522.90 V531.94 M251.17 522.90 h2.2" stroke="#a8d8a0" stroke-width="0.7" fill="none" stroke-opacity="0.6"/>
<path d="M252.82 525.15 V544.96 M251.72 525.15 h2.2 M251.72 544.96 h2.2 M251.72 532.00 h2.2 M251.72 534.55 h2.2 M251.72 526.20 h2.2 M251.72 533.90 h2.2" stroke="#c8a0b8" stroke-width="0.7" fill="none" stroke-opacity="0.6"/>
<path d="M253.62 522.78 V531.94 M252.52 522.78 h2.2" stroke="#a8d8a0" stroke-width="0.7" fill="none" stroke-opacity="0.6"/>
<path d="M254.13 525.17 V544.81 M253.03 525.17 h2.2 M253.03 544.81 h2.2 M253.03 531.88 h2.2 M253.03 534.46 h2.2 M253.03 526.19 h2.2 M253.03 533.78 h2.2" stroke="#c8a0b8" stroke-width="0.7" fill="none" stroke-opacity="0.6"/>
<path d="M254.93 522.66 V531.93 M253.83 522.66 h2.2" stroke="#a8d8a0" stroke-width="0.7" fill="none" stroke-opacity="0.6"/>
<path d="M255.40 525.20 V544.68 M254.30 525.20 h2.2 M254.30 544.68 h2.2 M254.30 531.77 h2.2 M254.30 534.37 h2.2 M254.30 526.18 h2.2 M254.30 533.67 h2.2" stroke="#c8a0b8" stroke-width="0.7" fill="none" stroke-opacity="0.6"/>
<path d="M256.20 522.54 V531.93 M255.10 522.54 h2.2" stroke="#a8d8a0" stroke-width="0.7" fill="none" stroke-opacity="0.6"/>
<path d="M256.62 525.22 V544.56 M255.52 525.22 h2.2 M255.52 544.56 h2.2 M255.52 531.67 h2.2 M255.52 534.30 h2.2 M255.52 526.17 h2.2 M255.52 533.57 h2.2" stroke="#c8a0b8" stroke-width="0.7" fill="none" stroke-opacity="0.6"/>
<path d="M257.42 522.42 V531.92 M256.32 522.42 h2.2" stroke="#a8d8a0" stroke-width="0.7" fill="none" stroke-opacity="0.6"/>
<path d="M257.80 525.24 V544.46 M256.70 525.24 h2.2 M256.70 544.46 h2.2 M256.70 531.58 h2.2 M256.70 534.23 h2.2 M256.70 526.16 h2.2 M256.70 533.48 h2.2" stroke="#c8a0b8" stroke-width="0.7" fill="none" stroke-opacity="0.6"/>
<path d="M258.60 522.30 V531.92 M257.50 522.30 h2.2" stroke="#a8d8a0" stroke-width="0.7" fill="none" stroke-opacity="0.6"/>
<path d="M258.95 525.26 V544.36 M257.85 525.26 h2.2 M257.85 544.36 h2.2 M257.85 531.51 h2.2 M257.85 534.16 h2.2 M257.85 526.15 h2.2 M257.85 533.41 h2.2" stroke="#c8a0b8" stroke-width="0.7" fill="none" stroke-opacity="0.6"/>
<path d="M259.75 522.18 V531.92 M258.65 522.18 h2.2" stroke="#a8d8a0" stroke-width="0.7" fill="none" stroke-opacity="0.6"/>
<path d="M260.07 525.28 V544.28 M258.97 525.28 h2.2 M258.97 544.28 h2.2 M258.97 531.44 h2.2 M258.97 534.11 h2.2 M258.97 526.15 h2.2 M258.97 533.34 h2.2" stroke="#c8a0b8" stroke-width="0.7" fill="none" stroke-opacity="0.6"/>
<path d="M260.87 522.06 V531.92 M259.77 522.06 h2.2" stroke="#a8d8a0" stroke-width="0.7" fill="none" stroke-opacity="0.6"/>
<path d="M261.15 525.29 V544.21 M260.05 525.29 h2.2 M260.05 544.21 h2.2 M260.05 531.38 h2.2 M260.05 534.05 h2.2 M260.05 526.15 h2.2 M260.05 533.28 h2.2" stroke="#c8a0b8" stroke-width="0.7" fill="none" stroke-opacity="0.6"/>
<path d="M261.95 521.94 V531.91 M260.85 521.94 h2.2" stroke="#a8d8a0" stroke-width="0.7" fill="none" stroke-opacity="0.6"/>
<path d="M262.20 525.31 V544.15 M261.10 525.31 h2.2 M261.10 544.15 h2.2 M261.10 531.33 h2.2 M261.10 534.00 h2.2 M261.10 526.14 h2.2 M261.10 533.23 h2.2" stroke="#c8a0b8" stroke-width="0.7" fill="none" stroke-opacity="0.6"/>
<path d="M263.00 521.83 V531.91 M261.90 521.83 h2.2" stroke="#a8d8a0" stroke-width="0.7" fill="none" stroke-opacity="0.6"/>
<path d="M263.22 525.32 V544.09 M262.12 525.32 h2.2 M262.12 544.09 h2.2 M262.12 531.28 h2.2 M262.12 533.96 h2.2 M262.12 526.14 h2.2 M262.12 533.18 h2.2" stroke="#c8a0b8" stroke-width="0.7" fill="none" stroke-opacity="0.6"/>
<path d="M264.02 521.71 V531.91 M262.92 521.71 h2.2" stroke="#a8d8a0" stroke-width="0.7" fill="none" stroke-opacity="0.6"/>
<path d="M61.70 627.85 L63.57 627.75 L65.43 627.57 L67.30 627.32 L69.16 627.01 L71.03 626.63 L72.89 626.20 L74.76 625.71 L76.62 625.18 L78.48 624.60 L80.35 623.98 L82.22 623.33 L84.08 622.65 L85.94 621.95 L87.81 621.22 L89.67 620.48 L91.54 619.73 L93.41 618.97 L95.27 618.20 L97.14 617.43 L99.00 616.67 L100.87 615.90 L102.73 615.05 L104.59 614.13 L106.46 613.12 L108.33 612.05 L110.19 610.93 L112.06 609.75 L113.92 608.54 L115.78 607.29 L117.65 606.02 L119.52 604.73 L121.38 603.42 L123.25 602.12 L125.11 600.81 L126.97 599.51 L128.84 598.21 L130.70 596.93 L132.57 595.67 L134.44 594.43 L136.30 593.21 L138.17 592.02 L140.03 590.84 L141.89 589.63 L143.76 588.41 L145.62 587.17 L147.49 585.92 L149.36 584.66 L151.22 583.40 L153.09 582.14 L154.95 580.89 L156.81 579.65 L158.68 578.42 L160.55 577.20 L162.41 576.00 L164.27 574.82 L166.14 573.66 L168.00 572.52 L169.87 571.41 L171.74 570.33 L173.60 569.27 L175.47 568.25 L177.33 567.25 L179.19 566.25 L181.06 565.23 L182.93 564.20 L184.79 563.18 L186.66 562.15 L188.52 561.13 L190.38 560.12 L192.25 559.12 L194.12 558.14 L195.98 557.19 L197.85 556.26 L199.71 555.36 L201.57 554.48 L203.44 553.65 L205.31 552.84 L207.17 552.08 L209.04 551.36 L210.90 550.69 L212.76 550.05 L214.63 549.47 L216.50 548.94 L218.36 548.46 L220.22 548.03 L222.09 547.61 L223.95 547.19 L225.82 546.79 L227.69 546.39 L229.55 546.00 L231.41 545.62 L233.28 545.25 L235.14 544.89 L237.01 544.55 L238.88 544.22 L240.74 543.90 L242.61 543.60 L244.47 543.31 L246.33 543.04 L248.20 542.78 L250.06 542.54 L251.93 542.32 L253.80 542.12 L255.66 541.93 L257.52 541.77 L259.39 541.63 L261.25 541.50 L263.12 541.41" stroke="#c4306e" stroke-width="1.3" fill="none" />
<path d="M61.70 626.82 L63.57 626.77 L65.43 626.63 L67.30 626.41 L69.16 626.10 L71.03 625.72 L72.89 625.27 L74.76 624.76 L76.62 624.19 L78.48 623.57 L80.35 622.91 L82.22 622.21 L84.08 621.47 L85.94 620.71 L87.81 619.92 L89.67 619.12 L91.54 618.30 L93.41 617.48 L95.27 616.65 L97.14 615.82 L99.00 615.00 L100.87 614.18 L102.73 613.26 L104.59 612.24 L106.46 611.13 L108.33 609.94 L110.19 608.68 L112.06 607.37 L113.92 606.01 L115.78 604.62 L117.65 603.20 L119.52 601.76 L121.38 600.31 L123.25 598.86 L125.11 597.42 L126.97 595.99 L128.84 594.57 L130.70 593.17 L132.57 591.80 L134.44 590.46 L136.30 589.15 L138.17 587.88 L140.03 586.63 L141.89 585.36 L143.76 584.07 L145.62 582.76 L147.49 581.45 L149.36 580.14 L151.22 578.83 L153.09 577.52 L154.95 576.22 L156.81 574.94 L158.68 573.67 L160.55 572.42 L162.41 571.19 L164.27 569.99 L166.14 568.81 L168.00 567.66 L169.87 566.54 L171.74 565.45 L173.60 564.40 L175.47 563.38 L177.33 562.40 L179.19 561.41 L181.06 560.42 L182.93 559.42 L184.79 558.42 L186.66 557.43 L188.52 556.45 L190.38 555.48 L192.25 554.53 L194.12 553.60 L195.98 552.69 L197.85 551.80 L199.71 550.94 L201.57 550.11 L203.44 549.32 L205.31 548.56 L207.17 547.83 L209.04 547.15 L210.90 546.50 L212.76 545.90 L214.63 545.35 L216.50 544.84 L218.36 544.38 L220.22 543.97 L222.09 543.56 L223.95 543.16 L225.82 542.77 L227.69 542.38 L229.55 542.01 L231.41 541.64 L233.28 541.28 L235.14 540.94 L237.01 540.61 L238.88 540.29 L240.74 539.98 L242.61 539.69 L244.47 539.41 L246.33 539.15 L248.20 538.90 L250.06 538.67 L251.93 538.45 L253.80 538.26 L255.66 538.08 L257.52 537.92 L259.39 537.79 L261.25 537.67 L263.12 537.57" stroke="#cc2030" stroke-width="1.3" fill="none" />
<path d="M61.70 602.13 L63.57 601.59 L65.43 601.03 L67.30 600.44 L69.16 599.83 L71.03 599.20 L72.89 598.55 L74.76 597.88 L76.62 597.19 L78.48 596.48 L80.35 595.77 L82.22 595.03 L84.08 594.29 L85.94 593.54 L87.81 592.78 L89.67 592.01 L91.54 591.23 L93.41 590.45 L95.27 589.67 L97.14 588.88 L99.00 588.09 L100.87 587.30 L102.73 586.47 L104.59 585.61 L106.46 584.72 L108.33 583.80 L110.19 582.86 L112.06 581.91 L113.92 580.95 L115.78 579.98 L117.65 579.00 L119.52 578.03 L121.38 577.06 L123.25 576.10 L125.11 575.14 L126.97 574.21 L128.84 573.28 L130.70 572.38 L132.57 571.49 L134.44 570.63 L136.30 569.80 L138.17 568.99 L140.03 568.20 L141.89 567.41 L143.76 566.62 L145.62 565.84 L147.49 565.07 L149.36 564.30 L151.22 563.54 L153.09 562.79 L154.95 562.05 L156.81 561.32 L158.68 560.60 L160.55 559.89 L162.41 559.20 L164.27 558.53 L166.14 557.86 L168.00 557.22 L169.87 556.59 L171.74 555.98 L173.60 555.39 L175.47 554.81 L177.33 554.26 L179.19 553.71 L181.06 553.16 L182.93 552.62 L184.79 552.08 L186.66 551.54 L188.52 551.01 L190.38 550.50 L192.25 549.99 L194.12 549.49 L195.98 549.00 L197.85 548.52 L199.71 548.06 L201.57 547.61 L203.44 547.17 L205.31 546.75 L207.17 546.35 L209.04 545.96 L210.90 545.60 L212.76 545.25 L214.63 544.92 L216.50 544.61 L218.36 544.32 L220.22 544.05 L222.09 543.79 L223.95 543.53 L225.82 543.28 L227.69 543.03 L229.55 542.78 L231.41 542.54 L233.28 542.31 L235.14 542.09 L237.01 541.87 L238.88 541.65 L240.74 541.45 L242.61 541.25 L244.47 541.06 L246.33 540.88 L248.20 540.71 L250.06 540.54 L251.93 540.39 L253.80 540.24 L255.66 540.11 L257.52 539.98 L259.39 539.87 L261.25 539.77 L263.12 539.68" stroke="#4c1c70" stroke-width="1.3" fill="none" />
<path d="M61.70 581.37 L63.57 580.84 L65.43 580.28 L67.30 579.70 L69.16 579.09 L71.03 578.46 L72.89 577.81 L74.76 577.14 L76.62 576.46 L78.48 575.76 L80.35 575.04 L82.22 574.31 L84.08 573.58 L85.94 572.83 L87.81 572.07 L89.67 571.31 L91.54 570.54 L93.41 569.76 L95.27 568.98 L97.14 568.20 L99.00 567.42 L100.87 566.63 L102.73 565.80 L104.59 564.93 L106.46 564.03 L108.33 563.10 L110.19 562.15 L112.06 561.18 L113.92 560.20 L115.78 559.22 L117.65 558.23 L119.52 557.25 L121.38 556.27 L123.25 555.31 L125.11 554.37 L126.97 553.44 L128.84 552.53 L130.70 551.65 L132.57 550.80 L134.44 549.98 L136.30 549.19 L138.17 548.44 L140.03 547.72 L141.89 546.99 L143.76 546.26 L145.62 545.53 L147.49 544.81 L149.36 544.10 L151.22 543.39 L153.09 542.70 L154.95 542.02 L156.81 541.36 L158.68 540.72 L160.55 540.10 L162.41 539.50 L164.27 538.93 L166.14 538.38 L168.00 537.87 L169.87 537.38 L171.74 536.92 L173.60 536.50 L175.47 536.11 L177.33 535.76 L179.19 535.42 L181.06 535.08 L182.93 534.75 L184.79 534.43 L186.66 534.11 L188.52 533.79 L190.38 533.49 L192.25 533.20 L194.12 532.91 L195.98 532.64 L197.85 532.38 L199.71 532.13 L201.57 531.89 L203.44 531.67 L205.31 531.47 L207.17 531.28 L209.04 531.11 L210.90 530.95 L212.76 530.81 L214.63 530.69 L216.50 530.59 L218.36 530.52 L220.22 530.46 L222.09 530.40 L223.95 530.34 L225.82 530.29 L227.69 530.24 L229.55 530.19 L231.41 530.14 L233.28 530.09 L235.14 530.05 L237.01 530.01 L238.88 529.97 L240.74 529.93 L242.61 529.90 L244.47 529.86 L246.33 529.83 L248.20 529.81 L250.06 529.78 L251.93 529.76 L253.80 529.74 L255.66 529.72 L257.52 529.71 L259.39 529.70 L261.25 529.69 L263.12 529.69" stroke="#3050a0" stroke-width="1.3" fill="none" />
<path d="M61.70 556.54 L63.57 555.82 L65.43 555.11 L67.30 554.42 L69.16 553.74 L71.03 553.07 L72.89 552.42 L74.76 551.77 L76.62 551.14 L78.48 550.53 L80.35 549.92 L82.22 549.33 L84.08 548.75 L85.94 548.18 L87.81 547.62 L89.67 547.07 L91.54 546.54 L93.41 546.01 L95.27 545.50 L97.14 545.00 L99.00 544.50 L100.87 544.02 L102.73 543.54 L104.59 543.07 L106.46 542.60 L108.33 542.14 L110.19 541.68 L112.06 541.23 L113.92 540.79 L115.78 540.36 L117.65 539.93 L119.52 539.51 L121.38 539.11 L123.25 538.71 L125.11 538.32 L126.97 537.95 L128.84 537.58 L130.70 537.23 L132.57 536.89 L134.44 536.56 L136.30 536.25 L138.17 535.95 L140.03 535.66 L141.89 535.36 L143.76 535.07 L145.62 534.78 L147.49 534.50 L149.36 534.22 L151.22 533.94 L153.09 533.67 L154.95 533.40 L156.81 533.15 L158.68 532.90 L160.55 532.67 L162.41 532.45 L164.27 532.24 L166.14 532.04 L168.00 531.86 L169.87 531.69 L171.74 531.54 L173.60 531.41 L175.47 531.30 L177.33 531.20 L179.19 531.12 L181.06 531.03 L182.93 530.95 L184.79 530.87 L186.66 530.80 L188.52 530.72 L190.38 530.65 L192.25 530.59 L194.12 530.53 L195.98 530.47 L197.85 530.41 L199.71 530.35 L201.57 530.30 L203.44 530.26 L205.31 530.21 L207.17 530.17 L209.04 530.13 L210.90 530.10 L212.76 530.06 L214.63 530.03 L216.50 530.01 L218.36 529.99 L220.22 529.97 L222.09 529.95 L223.95 529.93 L225.82 529.91 L227.69 529.89 L229.55 529.87 L231.41 529.86 L233.28 529.84 L235.14 529.82 L237.01 529.81 L238.88 529.79 L240.74 529.78 L242.61 529.77 L244.47 529.75 L246.33 529.74 L248.20 529.73 L250.06 529.72 L251.93 529.71 L253.80 529.71 L255.66 529.70 L257.52 529.69 L259.39 529.69 L261.25 529.69 L263.12 529.69" stroke="#5cb848" stroke-width="1.3" fill="none" />
<path d="M61.70 523.34 L63.57 523.38 L65.43 523.42 L67.30 523.46 L69.16 523.51 L71.03 523.55 L72.89 523.60 L74.76 523.65 L76.62 523.70 L78.48 523.75 L80.35 523.80 L82.22 523.85 L84.08 523.90 L85.94 523.96 L87.81 524.01 L89.67 524.07 L91.54 524.12 L93.41 524.18 L95.27 524.24 L97.14 524.30 L99.00 524.36 L100.87 524.42 L102.73 524.48 L104.59 524.54 L106.46 524.60 L108.33 524.66 L110.19 524.73 L112.06 524.79 L113.92 524.86 L115.78 524.93 L117.65 524.99 L119.52 525.06 L121.38 525.13 L123.25 525.20 L125.11 525.27 L126.97 525.34 L128.84 525.41 L130.70 525.48 L132.57 525.55 L134.44 525.62 L136.30 525.69 L138.17 525.76 L140.03 525.84 L141.89 525.91 L143.76 525.98 L145.62 526.06 L147.49 526.13 L149.36 526.21 L151.22 526.28 L153.09 526.36 L154.95 526.43 L156.81 526.51 L158.68 526.59 L160.55 526.66 L162.41 526.74 L164.27 526.82 L166.14 526.89 L168.00 526.97 L169.87 527.05 L171.74 527.13 L173.60 527.20 L175.47 527.28 L177.33 527.36 L179.19 527.44 L181.06 527.52 L182.93 527.60 L184.79 527.68 L186.66 527.76 L188.52 527.84 L190.38 527.91 L192.25 527.99 L194.12 528.07 L195.98 528.15 L197.85 528.23 L199.71 528.31 L201.57 528.39 L203.44 528.47 L205.31 528.55 L207.17 528.64 L209.04 528.72 L210.90 528.80 L212.76 528.88 L214.63 528.96 L216.50 529.04 L218.36 529.12 L220.22 529.20 L222.09 529.28 L223.95 529.36 L225.82 529.44 L227.69 529.52 L229.55 529.61 L231.41 529.69 L233.28 529.77 L235.14 529.85 L237.01 529.93 L238.88 530.01 L240.74 530.09 L242.61 530.17 L244.47 530.26 L246.33 530.34 L248.20 530.42 L250.06 530.50 L251.93 530.58 L253.80 530.66 L255.66 530.75 L257.52 530.83 L259.39 530.91 L261.25 530.99 L263.12 531.07" stroke="#111" stroke-width="1.3" fill="none" />
<line x1="53.60" y1="514.60" x2="53.60" y2="666.30" stroke="#1a1a1a" stroke-width="1.5" />
<line x1="52.90" y1="665.60" x2="259.40" y2="665.60" stroke="#1a1a1a" stroke-width="1.5" />
<line x1="49.60" y1="520.60" x2="53.60" y2="520.60" stroke="#222" stroke-width="1" />
<text x="48.20" y="523.50" font-size="8.4" font-weight="normal" text-anchor="end" fill="#333" >1.0</text>
<line x1="49.60" y1="583.75" x2="53.60" y2="583.75" stroke="#222" stroke-width="1" />
<text x="48.20" y="586.65" font-size="8.4" font-weight="normal" text-anchor="end" fill="#333" >0.4</text>
<line x1="49.60" y1="646.90" x2="53.60" y2="646.90" stroke="#222" stroke-width="1" />
<text x="48.20" y="649.80" font-size="8.4" font-weight="normal" text-anchor="end" fill="#333" >0.1</text>
<line x1="51.60" y1="523.84" x2="53.60" y2="523.84" stroke="#222" stroke-width="0.9" />
<line x1="51.60" y1="527.25" x2="53.60" y2="527.25" stroke="#222" stroke-width="0.9" />
<line x1="51.60" y1="530.86" x2="53.60" y2="530.86" stroke="#222" stroke-width="0.9" />
<line x1="51.60" y1="534.69" x2="53.60" y2="534.69" stroke="#222" stroke-width="0.9" />
<line x1="51.60" y1="538.77" x2="53.60" y2="538.77" stroke="#222" stroke-width="0.9" />
<line x1="51.60" y1="543.12" x2="53.60" y2="543.12" stroke="#222" stroke-width="0.9" />
<line x1="51.60" y1="547.80" x2="53.60" y2="547.80" stroke="#222" stroke-width="0.9" />
<line x1="51.60" y1="552.86" x2="53.60" y2="552.86" stroke="#222" stroke-width="0.9" />
<line x1="51.60" y1="558.35" x2="53.60" y2="558.35" stroke="#222" stroke-width="0.9" />
<line x1="51.60" y1="564.37" x2="53.60" y2="564.37" stroke="#222" stroke-width="0.9" />
<line x1="51.60" y1="571.03" x2="53.60" y2="571.03" stroke="#222" stroke-width="0.9" />
<line x1="51.60" y1="578.46" x2="53.60" y2="578.46" stroke="#222" stroke-width="0.9" />
<line x1="51.60" y1="586.90" x2="53.60" y2="586.90" stroke="#222" stroke-width="0.9" />
<line x1="51.60" y1="596.63" x2="53.60" y2="596.63" stroke="#222" stroke-width="0.9" />
<line x1="51.60" y1="608.14" x2="53.60" y2="608.14" stroke="#222" stroke-width="0.9" />
<line x1="51.60" y1="622.24" x2="53.60" y2="622.24" stroke="#222" stroke-width="0.9" />
<line x1="51.60" y1="628.89" x2="53.60" y2="628.89" stroke="#222" stroke-width="0.9" />
<line x1="51.60" y1="636.33" x2="53.60" y2="636.33" stroke="#222" stroke-width="0.9" />
<line x1="51.60" y1="644.76" x2="53.60" y2="644.76" stroke="#222" stroke-width="0.9" />
<line x1="51.60" y1="654.49" x2="53.60" y2="654.49" stroke="#222" stroke-width="0.9" />
<line x1="51.60" y1="659.99" x2="53.60" y2="659.99" stroke="#222" stroke-width="0.9" />
<line x1="51.60" y1="517.52" x2="53.60" y2="517.52" stroke="#222" stroke-width="0.9" />
<line x1="61.70" y1="665.60" x2="61.70" y2="668.60" stroke="#222" stroke-width="1" />
<text x="61.70" y="678.30" font-size="8.6" font-weight="normal" text-anchor="middle" fill="#333" >1.0</text>
<line x1="80.35" y1="665.60" x2="80.35" y2="667.60" stroke="#222" stroke-width="0.9" />
<line x1="99.00" y1="665.60" x2="99.00" y2="668.60" stroke="#222" stroke-width="1" />
<text x="99.00" y="678.30" font-size="8.6" font-weight="normal" text-anchor="middle" fill="#333" >2.7</text>
<line x1="117.65" y1="665.60" x2="117.65" y2="667.60" stroke="#222" stroke-width="0.9" />
<line x1="136.30" y1="665.60" x2="136.30" y2="668.60" stroke="#222" stroke-width="1" />
<text x="136.30" y="678.30" font-size="8.6" font-weight="normal" text-anchor="middle" fill="#333" >7.4</text>
<line x1="154.95" y1="665.60" x2="154.95" y2="667.60" stroke="#222" stroke-width="0.9" />
<line x1="173.60" y1="665.60" x2="173.60" y2="668.60" stroke="#222" stroke-width="1" />
<text x="173.60" y="678.30" font-size="8.6" font-weight="normal" text-anchor="middle" fill="#333" >20.1</text>
<line x1="192.25" y1="665.60" x2="192.25" y2="667.60" stroke="#222" stroke-width="0.9" />
<line x1="210.90" y1="665.60" x2="210.90" y2="668.60" stroke="#222" stroke-width="1" />
<text x="210.90" y="678.30" font-size="8.6" font-weight="normal" text-anchor="middle" fill="#333" >54.6</text>
<line x1="229.55" y1="665.60" x2="229.55" y2="667.60" stroke="#222" stroke-width="0.9" />
<line x1="248.20" y1="665.60" x2="248.20" y2="668.60" stroke="#222" stroke-width="1" />
<text x="248.20" y="678.30" font-size="8.6" font-weight="normal" text-anchor="middle" fill="#333" >148.4</text>
<text x="183.50" y="696.30" font-size="15.6" font-weight="normal" text-anchor="middle" fill="#111" >Log Time(s)</text>
<text x="27.00" y="589.50" font-size="15.6" font-weight="normal" text-anchor="middle" fill="#111" transform="rotate(-90 27.00 589.50)" >Log Averaged Intensity</text>
<line x1="170.40" y1="604.50" x2="191.20" y2="604.50" stroke="#80b880" stroke-width="1.3" />
<text x="195.00" y="607.20" font-size="7.45" font-weight="normal" text-anchor="start" fill="#222" >EGFP</text>
<line x1="170.40" y1="612.12" x2="191.20" y2="612.12" stroke="#c84050" stroke-width="1.3" />
<text x="195.00" y="614.82" font-size="7.45" font-weight="normal" text-anchor="start" fill="#222" >WT</text>
<line x1="170.40" y1="619.74" x2="191.20" y2="619.74" stroke="#4070a8" stroke-width="1.3" />
<text x="195.00" y="622.44" font-size="7.45" font-weight="normal" text-anchor="start" fill="#222" >WASP dEVH1</text>
<line x1="170.40" y1="627.36" x2="191.20" y2="627.36" stroke="#e0a0c8" stroke-width="1.3" />
<text x="195.00" y="630.06" font-size="7.45" font-weight="normal" text-anchor="start" fill="#222" >WASP T45M</text>
<line x1="170.40" y1="634.98" x2="191.20" y2="634.98" stroke="#6a60a8" stroke-width="1.3" />
<text x="195.00" y="637.68" font-size="7.45" font-weight="normal" text-anchor="start" fill="#222" >WASP A134T</text>
<line x1="170.40" y1="642.60" x2="191.20" y2="642.60" stroke="#111" stroke-width="1.3" />
<text x="195.00" y="645.30" font-size="7.45" font-weight="normal" text-anchor="start" fill="#222" >bleaching</text>
<line x1="268.80" y1="685.60" x2="268.80" y2="704.00" stroke="#444" stroke-width="1.3" />
<line x1="306.50" y1="510.30" x2="306.50" y2="670.20" stroke="#707070" stroke-width="1.5" />
<line x1="305.90" y1="669.60" x2="465.00" y2="669.60" stroke="#707070" stroke-width="1.5" />
<line x1="303.50" y1="669.60" x2="306.50" y2="669.60" stroke="#222" stroke-width="1" />
<text x="303.20" y="672.10" font-size="7" font-weight="bold" text-anchor="end" fill="#222" >0</text>
<line x1="303.50" y1="616.67" x2="306.50" y2="616.67" stroke="#222" stroke-width="1" />
<text x="303.20" y="619.17" font-size="7" font-weight="bold" text-anchor="end" fill="#222" >10</text>
<line x1="303.50" y1="563.73" x2="306.50" y2="563.73" stroke="#222" stroke-width="1" />
<text x="303.20" y="566.23" font-size="7" font-weight="bold" text-anchor="end" fill="#222" >20</text>
<line x1="303.50" y1="510.80" x2="306.50" y2="510.80" stroke="#222" stroke-width="1" />
<text x="303.20" y="513.30" font-size="7" font-weight="bold" text-anchor="end" fill="#222" >30</text>
<text x="290.00" y="588.30" font-size="8.6" font-weight="bold" text-anchor="middle" fill="#222" transform="rotate(-90 290.00 588.30)" textLength="75.5" lengthAdjust="spacingAndGlyphs">FRAP half life (s)</text>
<line x1="323.00" y1="547.85" x2="323.00" y2="584.91" stroke="#333" stroke-width="1.3" />
<line x1="323.00" y1="612.43" x2="323.00" y2="637.84" stroke="#333" stroke-width="1.3" />
<line x1="317.80" y1="547.85" x2="328.20" y2="547.85" stroke="#333" stroke-width="1.3" />
<line x1="317.80" y1="637.84" x2="328.20" y2="637.84" stroke="#333" stroke-width="1.3" />
<rect x="312.35" y="584.91" width="21.30" height="27.53" fill="#555" stroke="#333" stroke-width="1.3"/>
<line x1="312.35" y1="600.79" x2="333.65" y2="600.79" stroke="#333" stroke-width="1.2" />
<line x1="323.00" y1="669.60" x2="323.00" y2="672.10" stroke="#333" stroke-width="1" />
<text x="324.70" y="678.40" font-size="8.5" font-weight="bold" text-anchor="end" fill="#222" transform="rotate(-45 324.70 678.40)" >WT</text>
<line x1="354.60" y1="519.80" x2="354.60" y2="569.03" stroke="#333" stroke-width="1.3" />
<line x1="354.60" y1="611.37" x2="354.60" y2="633.61" stroke="#333" stroke-width="1.3" />
<line x1="349.40" y1="519.80" x2="359.80" y2="519.80" stroke="#333" stroke-width="1.3" />
<line x1="349.40" y1="633.61" x2="359.80" y2="633.61" stroke="#333" stroke-width="1.3" />
<rect x="343.95" y="569.03" width="21.30" height="42.35" fill="#9a9a9a" stroke="#333" stroke-width="1.3"/>
<line x1="343.95" y1="595.49" x2="365.25" y2="595.49" stroke="#333" stroke-width="1.2" />
<line x1="354.60" y1="669.60" x2="354.60" y2="672.10" stroke="#333" stroke-width="1" />
<text x="356.30" y="678.40" font-size="8.5" font-weight="bold" text-anchor="end" fill="#222" transform="rotate(-45 356.30 678.40)" >T45M</text>
<line x1="386.30" y1="584.91" x2="386.30" y2="612.43" stroke="#333" stroke-width="1.3" />
<line x1="386.30" y1="637.84" x2="386.30" y2="653.72" stroke="#333" stroke-width="1.3" />
<line x1="381.10" y1="584.91" x2="391.50" y2="584.91" stroke="#333" stroke-width="1.3" />
<line x1="381.10" y1="653.72" x2="391.50" y2="653.72" stroke="#333" stroke-width="1.3" />
<rect x="375.65" y="612.43" width="21.30" height="25.41" fill="#dcdcdc" stroke="#333" stroke-width="1.3"/>
<line x1="375.65" y1="627.25" x2="396.95" y2="627.25" stroke="#333" stroke-width="1.2" />
<line x1="386.30" y1="669.60" x2="386.30" y2="672.10" stroke="#333" stroke-width="1" />
<text x="388.00" y="678.40" font-size="8.5" font-weight="bold" text-anchor="end" fill="#222" transform="rotate(-45 388.00 678.40)" >A134T</text>
<text x="386.90" y="535.20" font-size="9" font-weight="bold" text-anchor="middle" fill="#222" >***</text>
<line x1="418.00" y1="627.25" x2="418.00" y2="643.13" stroke="#333" stroke-width="1.3" />
<line x1="418.00" y1="648.43" x2="418.00" y2="653.72" stroke="#333" stroke-width="1.3" />
<line x1="412.80" y1="627.25" x2="423.20" y2="627.25" stroke="#333" stroke-width="1.3" />
<line x1="412.80" y1="653.72" x2="423.20" y2="653.72" stroke="#333" stroke-width="1.3" />
<rect x="407.35" y="643.13" width="21.30" height="5.29" fill="#eeeeee" stroke="#333" stroke-width="1.3"/>
<line x1="407.35" y1="648.43" x2="428.65" y2="648.43" stroke="#333" stroke-width="1.2" />
<line x1="418.00" y1="669.60" x2="418.00" y2="672.10" stroke="#333" stroke-width="1" />
<text x="419.70" y="678.40" font-size="8.5" font-weight="bold" text-anchor="end" fill="#222" transform="rotate(-45 419.70 678.40)" >dEVH1</text>
<text x="418.60" y="535.20" font-size="9" font-weight="bold" text-anchor="middle" fill="#222" >***</text>
<line x1="450.00" y1="653.19" x2="450.00" y2="659.01" stroke="#333" stroke-width="1.3" />
<line x1="450.00" y1="664.57" x2="450.00" y2="664.84" stroke="#333" stroke-width="1.3" />
<line x1="444.80" y1="653.19" x2="455.20" y2="653.19" stroke="#333" stroke-width="1.3" />
<line x1="444.80" y1="664.84" x2="455.20" y2="664.84" stroke="#333" stroke-width="1.3" />
<clipPath id="hc3"><rect x="439.35" y="659.01" width="21.30" height="5.56"/></clipPath>
<rect x="439.35" y="659.01" width="21.30" height="5.56" fill="#fff"/>
<path d="M438.35 636.71 L461.65 660.01 M438.35 640.41 L461.65 663.71 M438.35 644.11 L461.65 667.41 M438.35 647.81 L461.65 671.11 M438.35 651.51 L461.65 674.81 M438.35 655.21 L461.65 678.51 M438.35 658.91 L461.65 682.21 M438.35 662.61 L461.65 685.91 " stroke="#333" stroke-width="1.1" clip-path="url(#hc3)"/>
<rect x="439.35" y="659.01" width="21.30" height="5.56" fill="none" stroke="#333" stroke-width="1.3"/>
<line x1="450.00" y1="669.60" x2="450.00" y2="672.10" stroke="#333" stroke-width="1" />
<text x="451.70" y="678.40" font-size="8.5" font-weight="bold" text-anchor="end" fill="#222" transform="rotate(-45 451.70 678.40)" >EGFP</text>
<text x="450.60" y="535.20" font-size="9" font-weight="bold" text-anchor="middle" fill="#222" >***</text>
<path d="M323.8 514.2 V503.2 H401.25 V507 M354.3 512.6 L401.25 507 L449.25 513.75" stroke="#222" stroke-width="1.1" fill="none" />
</svg></body></html>
